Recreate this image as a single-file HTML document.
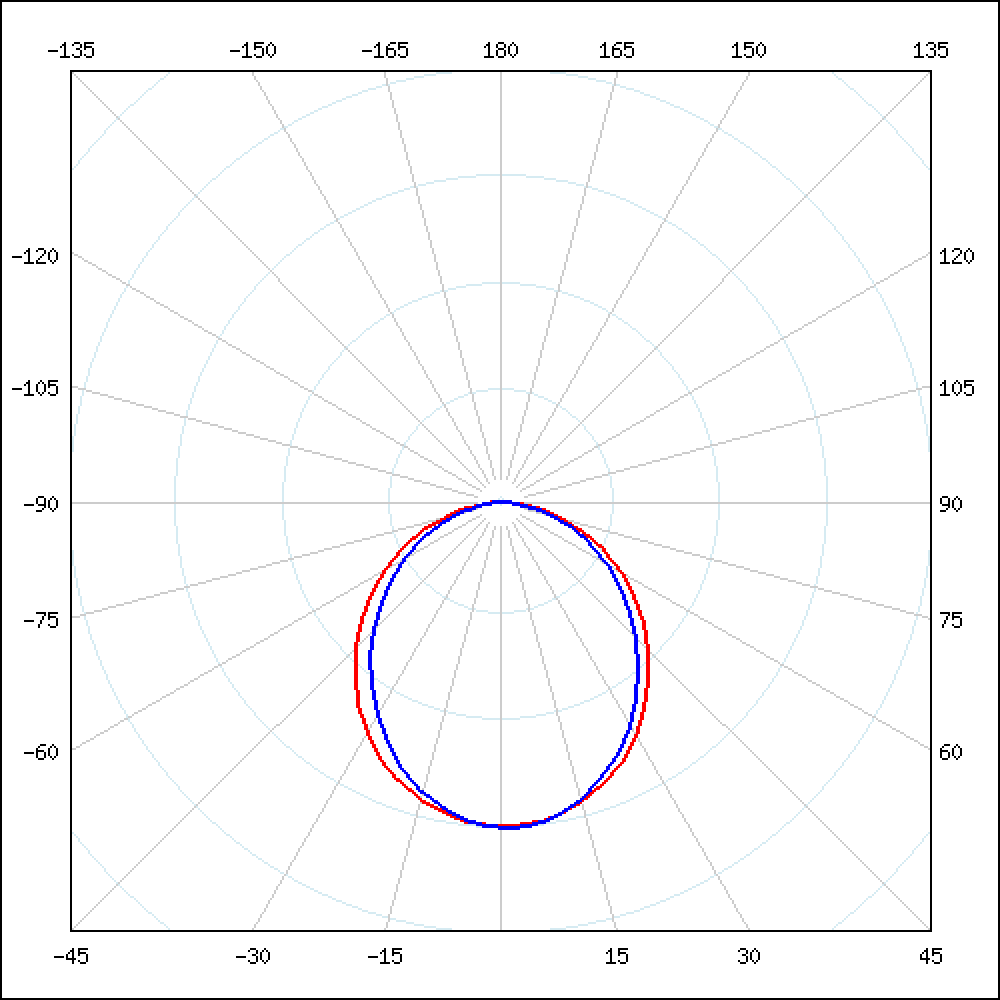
<!DOCTYPE html>
<html lang="en">
<head>
<meta charset="utf-8">
<title>Polar diagram</title>
<style>
html,body{margin:0;padding:0;background:#fff;}
body{width:1000px;height:1000px;overflow:hidden;font-family:"Liberation Sans",sans-serif;}
svg{display:block;position:absolute;left:0;top:0;}
</style>
</head>
<body>
<svg width="1000" height="1000" viewBox="0 0 500 500" shape-rendering="crispEdges" role="img" aria-label="Polar light distribution diagram, angles -180 to 180 degrees, two curves (red and blue)">
<rect x="0" y="0" width="500" height="500" fill="#ffffff"/>
<path fill="#d6ebf2" d="M84 36h1v1h-1zM218 36h8v1h-8zM275 36h8v1h-8zM416 36h1v1h-1zM83 37h1v1h-1zM212 37h6v1h-6zM283 37h6v1h-6zM417 37h1v1h-1zM82 38h1v1h-1zM207 38h5v1h-5zM289 38h5v1h-5zM418 38h1v1h-1zM80 39h2v1h-2zM203 39h4v1h-4zM294 39h4v1h-4zM419 39h2v1h-2zM79 40h1v1h-1zM198 40h5v1h-5zM298 40h5v1h-5zM421 40h1v1h-1zM78 41h1v1h-1zM195 41h3v1h-3zM303 41h3v1h-3zM422 41h1v1h-1zM77 42h1v1h-1zM191 42h2v1h-2zM194 42h1v1h-1zM306 42h1v1h-1zM308 42h2v1h-2zM423 42h1v1h-1zM76 43h1v1h-1zM188 43h3v1h-3zM310 43h3v1h-3zM424 43h1v1h-1zM74 44h2v1h-2zM184 44h4v1h-4zM313 44h4v1h-4zM425 44h2v1h-2zM73 45h1v1h-1zM181 45h3v1h-3zM317 45h3v1h-3zM427 45h1v1h-1zM72 46h1v1h-1zM179 46h2v1h-2zM320 46h2v1h-2zM428 46h1v1h-1zM71 47h1v1h-1zM176 47h3v1h-3zM322 47h3v1h-3zM429 47h1v1h-1zM70 48h1v1h-1zM173 48h3v1h-3zM325 48h3v1h-3zM430 48h1v1h-1zM69 49h1v1h-1zM171 49h2v1h-2zM328 49h2v1h-2zM431 49h1v1h-1zM68 50h1v1h-1zM168 50h3v1h-3zM330 50h3v1h-3zM432 50h1v1h-1zM67 51h1v1h-1zM166 51h2v1h-2zM333 51h2v1h-2zM433 51h1v1h-1zM65 52h2v1h-2zM164 52h2v1h-2zM335 52h2v1h-2zM434 52h2v1h-2zM64 53h1v1h-1zM161 53h3v1h-3zM337 53h3v1h-3zM436 53h1v1h-1zM63 54h1v1h-1zM159 54h2v1h-2zM340 54h2v1h-2zM437 54h1v1h-1zM62 55h1v1h-1zM157 55h2v1h-2zM342 55h2v1h-2zM438 55h1v1h-1zM61 56h1v1h-1zM155 56h2v1h-2zM344 56h2v1h-2zM439 56h1v1h-1zM60 57h1v1h-1zM153 57h2v1h-2zM346 57h2v1h-2zM440 57h1v1h-1zM59 58h1v1h-1zM151 58h2v1h-2zM348 58h2v1h-2zM441 58h1v1h-1zM58 59h1v1h-1zM149 59h2v1h-2zM350 59h2v1h-2zM442 59h1v1h-1zM57 60h1v1h-1zM147 60h2v1h-2zM352 60h2v1h-2zM443 60h1v1h-1zM56 61h1v1h-1zM146 61h1v1h-1zM354 61h1v1h-1zM444 61h1v1h-1zM55 62h1v1h-1zM144 62h2v1h-2zM355 62h2v1h-2zM445 62h1v1h-1zM54 63h1v1h-1zM142 63h2v1h-2zM357 63h2v1h-2zM446 63h1v1h-1zM53 64h1v1h-1zM140 64h2v1h-2zM359 64h2v1h-2zM447 64h1v1h-1zM139 65h1v1h-1zM361 65h1v1h-1zM137 66h2v1h-2zM362 66h2v1h-2zM51 67h1v1h-1zM135 67h2v1h-2zM364 67h2v1h-2zM449 67h1v1h-1zM50 68h1v1h-1zM134 68h1v1h-1zM366 68h1v1h-1zM450 68h1v1h-1zM49 69h1v1h-1zM132 69h2v1h-2zM367 69h2v1h-2zM451 69h1v1h-1zM48 70h1v1h-1zM131 70h1v1h-1zM369 70h1v1h-1zM452 70h1v1h-1zM47 71h1v1h-1zM129 71h2v1h-2zM370 71h2v1h-2zM453 71h1v1h-1zM46 72h1v1h-1zM128 72h1v1h-1zM372 72h1v1h-1zM454 72h1v1h-1zM45 73h1v1h-1zM126 73h2v1h-2zM373 73h2v1h-2zM455 73h1v1h-1zM125 74h1v1h-1zM375 74h1v1h-1zM124 75h1v1h-1zM376 75h1v1h-1zM43 76h1v1h-1zM122 76h2v1h-2zM377 76h2v1h-2zM457 76h1v1h-1zM42 77h1v1h-1zM121 77h1v1h-1zM379 77h1v1h-1zM458 77h1v1h-1zM41 78h1v1h-1zM120 78h1v1h-1zM380 78h1v1h-1zM459 78h1v1h-1zM40 79h1v1h-1zM118 79h2v1h-2zM381 79h2v1h-2zM460 79h1v1h-1zM117 80h1v1h-1zM383 80h1v1h-1zM116 81h1v1h-1zM384 81h1v1h-1zM38 82h1v1h-1zM115 82h1v1h-1zM385 82h1v1h-1zM462 82h1v1h-1zM37 83h1v1h-1zM113 83h2v1h-2zM386 83h2v1h-2zM463 83h1v1h-1zM36 84h1v1h-1zM112 84h1v1h-1zM388 84h1v1h-1zM464 84h1v1h-1zM111 85h1v1h-1zM389 85h1v1h-1zM110 86h1v1h-1zM390 86h1v1h-1zM109 87h1v1h-1zM238 87h12v1h-12zM251 87h12v1h-12zM391 87h1v1h-1zM108 88h1v1h-1zM229 88h9v1h-9zM263 88h9v1h-9zM392 88h1v1h-1zM106 89h2v1h-2zM223 89h6v1h-6zM272 89h6v1h-6zM393 89h2v1h-2zM105 90h1v1h-1zM217 90h6v1h-6zM278 90h6v1h-6zM395 90h1v1h-1zM104 91h1v1h-1zM213 91h4v1h-4zM284 91h4v1h-4zM396 91h1v1h-1zM103 92h1v1h-1zM209 92h4v1h-4zM288 92h4v1h-4zM397 92h1v1h-1zM102 93h1v1h-1zM205 93h2v1h-2zM208 93h1v1h-1zM292 93h1v1h-1zM294 93h2v1h-2zM398 93h1v1h-1zM101 94h1v1h-1zM202 94h3v1h-3zM296 94h3v1h-3zM399 94h1v1h-1zM100 95h1v1h-1zM199 95h3v1h-3zM299 95h3v1h-3zM400 95h1v1h-1zM99 96h1v1h-1zM196 96h3v1h-3zM302 96h3v1h-3zM401 96h1v1h-1zM98 97h1v1h-1zM193 97h3v1h-3zM305 97h3v1h-3zM402 97h1v1h-1zM97 98h1v1h-1zM191 98h2v1h-2zM308 98h2v1h-2zM403 98h1v1h-1zM96 99h1v1h-1zM188 99h3v1h-3zM310 99h3v1h-3zM404 99h1v1h-1zM95 100h1v1h-1zM186 100h2v1h-2zM313 100h2v1h-2zM405 100h1v1h-1zM94 101h1v1h-1zM184 101h2v1h-2zM315 101h2v1h-2zM406 101h1v1h-1zM93 102h1v1h-1zM182 102h2v1h-2zM317 102h2v1h-2zM407 102h1v1h-1zM92 103h1v1h-1zM180 103h2v1h-2zM319 103h2v1h-2zM408 103h1v1h-1zM91 104h1v1h-1zM178 104h2v1h-2zM321 104h2v1h-2zM409 104h1v1h-1zM90 105h1v1h-1zM176 105h2v1h-2zM323 105h2v1h-2zM410 105h1v1h-1zM174 106h2v1h-2zM325 106h2v1h-2zM172 107h2v1h-2zM327 107h2v1h-2zM88 108h1v1h-1zM170 108h2v1h-2zM329 108h2v1h-2zM412 108h1v1h-1zM87 109h1v1h-1zM169 109h1v1h-1zM331 109h1v1h-1zM413 109h1v1h-1zM86 110h1v1h-1zM167 110h1v1h-1zM333 110h1v1h-1zM414 110h1v1h-1zM85 111h1v1h-1zM165 111h2v1h-2zM334 111h2v1h-2zM415 111h1v1h-1zM84 112h1v1h-1zM163 112h2v1h-2zM336 112h2v1h-2zM416 112h1v1h-1zM162 113h1v1h-1zM338 113h1v1h-1zM160 114h2v1h-2zM339 114h2v1h-2zM82 115h1v1h-1zM159 115h1v1h-1zM341 115h1v1h-1zM418 115h1v1h-1zM81 116h1v1h-1zM157 116h2v1h-2zM342 116h2v1h-2zM419 116h1v1h-1zM80 117h1v1h-1zM156 117h1v1h-1zM344 117h1v1h-1zM420 117h1v1h-1zM155 118h1v1h-1zM345 118h1v1h-1zM153 119h2v1h-2zM346 119h2v1h-2zM78 120h1v1h-1zM152 120h1v1h-1zM348 120h1v1h-1zM422 120h1v1h-1zM77 121h1v1h-1zM151 121h1v1h-1zM349 121h1v1h-1zM423 121h1v1h-1zM149 122h2v1h-2zM350 122h2v1h-2zM148 123h1v1h-1zM352 123h1v1h-1zM75 124h1v1h-1zM147 124h1v1h-1zM353 124h1v1h-1zM425 124h1v1h-1zM74 125h1v1h-1zM146 125h1v1h-1zM354 125h1v1h-1zM426 125h1v1h-1zM145 126h1v1h-1zM355 126h1v1h-1zM143 127h2v1h-2zM356 127h2v1h-2zM72 128h1v1h-1zM142 128h1v1h-1zM358 128h1v1h-1zM428 128h1v1h-1zM141 129h1v1h-1zM359 129h1v1h-1zM140 130h1v1h-1zM360 130h1v1h-1zM70 131h1v1h-1zM139 131h1v1h-1zM361 131h1v1h-1zM430 131h1v1h-1zM138 132h1v1h-1zM362 132h1v1h-1zM137 133h1v1h-1zM363 133h1v1h-1zM68 134h1v1h-1zM136 134h1v1h-1zM364 134h1v1h-1zM432 134h1v1h-1zM134 136h1v1h-1zM366 136h1v1h-1zM133 137h1v1h-1zM367 137h1v1h-1zM132 138h1v1h-1zM368 138h1v1h-1zM65 139h1v1h-1zM131 139h1v1h-1zM369 139h1v1h-1zM435 139h1v1h-1zM130 140h1v1h-1zM370 140h1v1h-1zM129 141h1v1h-1zM241 141h9v1h-9zM251 141h9v1h-9zM371 141h1v1h-1zM128 142h1v1h-1zM233 142h8v1h-8zM260 142h8v1h-8zM372 142h1v1h-1zM63 143h1v1h-1zM228 143h5v1h-5zM268 143h5v1h-5zM437 143h1v1h-1zM224 144h4v1h-4zM273 144h4v1h-4zM126 145h1v1h-1zM220 145h1v1h-1zM222 145h2v1h-2zM277 145h2v1h-2zM280 145h1v1h-1zM374 145h1v1h-1zM61 146h1v1h-1zM125 146h1v1h-1zM217 146h3v1h-3zM281 146h3v1h-3zM375 146h1v1h-1zM439 146h1v1h-1zM124 147h1v1h-1zM214 147h3v1h-3zM284 147h3v1h-3zM376 147h1v1h-1zM123 148h1v1h-1zM211 148h3v1h-3zM287 148h3v1h-3zM377 148h1v1h-1zM209 149h2v1h-2zM290 149h2v1h-2zM206 150h3v1h-3zM292 150h3v1h-3zM121 151h1v1h-1zM204 151h2v1h-2zM295 151h2v1h-2zM379 151h1v1h-1zM120 152h1v1h-1zM202 152h2v1h-2zM297 152h2v1h-2zM380 152h1v1h-1zM200 153h2v1h-2zM299 153h2v1h-2zM198 154h2v1h-2zM301 154h2v1h-2zM118 155h1v1h-1zM197 155h1v1h-1zM303 155h1v1h-1zM382 155h1v1h-1zM117 156h1v1h-1zM196 156h1v1h-1zM304 156h1v1h-1zM383 156h1v1h-1zM193 157h2v1h-2zM306 157h2v1h-2zM192 158h1v1h-1zM308 158h1v1h-1zM115 159h1v1h-1zM190 159h2v1h-2zM309 159h2v1h-2zM385 159h1v1h-1zM189 160h1v1h-1zM311 160h1v1h-1zM187 161h2v1h-2zM312 161h2v1h-2zM113 162h1v1h-1zM186 162h1v1h-1zM314 162h1v1h-1zM387 162h1v1h-1zM185 163h1v1h-1zM315 163h1v1h-1zM183 164h2v1h-2zM316 164h2v1h-2zM182 165h1v1h-1zM318 165h1v1h-1zM181 166h1v1h-1zM319 166h1v1h-1zM110 167h1v1h-1zM180 167h1v1h-1zM320 167h1v1h-1zM390 167h1v1h-1zM109 168h1v1h-1zM179 168h1v1h-1zM321 168h1v1h-1zM391 168h1v1h-1zM178 169h1v1h-1zM322 169h1v1h-1zM176 170h2v1h-2zM323 170h2v1h-2zM175 171h1v1h-1zM325 171h1v1h-1zM174 172h1v1h-1zM326 172h1v1h-1zM173 173h1v1h-1zM327 173h1v1h-1zM172 174h1v1h-1zM328 174h1v1h-1zM171 175h1v1h-1zM329 175h1v1h-1zM169 178h1v1h-1zM331 178h1v1h-1zM168 179h1v1h-1zM332 179h1v1h-1zM167 180h1v1h-1zM333 180h1v1h-1zM166 181h1v1h-1zM334 181h1v1h-1zM165 182h1v1h-1zM335 182h1v1h-1zM163 185h1v1h-1zM337 185h1v1h-1zM162 186h1v1h-1zM338 186h1v1h-1zM160 189h1v1h-1zM340 189h1v1h-1zM158 192h1v1h-1zM342 192h1v1h-1zM244 194h6v1h-6zM251 194h6v1h-6zM156 195h1v1h-1zM238 195h6v1h-6zM257 195h6v1h-6zM344 195h1v1h-1zM234 196h1v1h-1zM236 196h2v1h-2zM263 196h2v1h-2zM266 196h1v1h-1zM155 197h1v1h-1zM232 197h2v1h-2zM267 197h2v1h-2zM345 197h1v1h-1zM229 198h3v1h-3zM269 198h3v1h-3zM227 199h2v1h-2zM272 199h2v1h-2zM225 200h2v1h-2zM274 200h2v1h-2zM223 201h2v1h-2zM276 201h2v1h-2zM221 202h1v1h-1zM279 202h1v1h-1zM220 203h1v1h-1zM280 203h1v1h-1zM218 204h2v1h-2zM281 204h2v1h-2zM217 205h1v1h-1zM283 205h1v1h-1zM216 206h1v1h-1zM284 206h1v1h-1zM215 207h1v1h-1zM285 207h1v1h-1zM213 208h2v1h-2zM286 208h2v1h-2zM212 209h1v1h-1zM288 209h1v1h-1zM211 210h1v1h-1zM289 210h1v1h-1zM209 212h1v1h-1zM291 212h1v1h-1zM207 215h1v1h-1zM293 215h1v1h-1zM206 216h1v1h-1zM294 216h1v1h-1zM205 217h1v1h-1zM295 217h1v1h-1zM203 220h1v1h-1zM297 220h1v1h-1zM355 223h1v1h-1zM304 237h1v1h-1zM250 248h1v1h-1zM249 249h1v1h-1zM251 249h1v1h-1zM250 252h1v1h-1zM196 266h1v1h-1zM304 266h1v1h-1zM301 272h1v1h-1zM298 278h1v1h-1zM145 280h1v1h-1zM203 280h1v1h-1zM297 280h1v1h-1zM355 280h1v1h-1zM205 283h1v1h-1zM295 283h1v1h-1zM206 284h1v1h-1zM294 284h1v1h-1zM207 285h1v1h-1zM293 285h1v1h-1zM209 288h1v1h-1zM291 288h1v1h-1zM210 289h1v1h-1zM290 289h1v1h-1zM212 291h1v1h-1zM288 291h1v1h-1zM93 292h1v1h-1zM213 292h2v1h-2zM286 292h2v1h-2zM407 292h1v1h-1zM215 293h1v1h-1zM285 293h1v1h-1zM216 294h1v1h-1zM284 294h1v1h-1zM217 295h1v1h-1zM283 295h1v1h-1zM218 296h2v1h-2zM281 296h2v1h-2zM220 297h1v1h-1zM280 297h1v1h-1zM221 298h2v1h-2zM278 298h2v1h-2zM223 299h2v1h-2zM276 299h2v1h-2zM225 300h2v1h-2zM274 300h2v1h-2zM227 301h2v1h-2zM272 301h2v1h-2zM229 302h3v1h-3zM269 302h3v1h-3zM155 303h1v1h-1zM232 303h2v1h-2zM267 303h2v1h-2zM345 303h1v1h-1zM156 304h1v1h-1zM234 304h2v1h-2zM237 304h1v1h-1zM263 304h1v1h-1zM265 304h2v1h-2zM344 304h1v1h-1zM238 305h6v1h-6zM257 305h6v1h-6zM42 306h1v1h-1zM244 306h6v1h-6zM251 306h6v1h-6zM458 306h1v1h-1zM158 308h1v1h-1zM342 308h1v1h-1zM160 311h1v1h-1zM340 311h1v1h-1zM162 314h1v1h-1zM338 314h1v1h-1zM163 315h1v1h-1zM337 315h1v1h-1zM165 318h1v1h-1zM335 318h1v1h-1zM166 319h1v1h-1zM334 319h1v1h-1zM167 320h1v1h-1zM333 320h1v1h-1zM168 321h1v1h-1zM332 321h1v1h-1zM169 322h1v1h-1zM331 322h1v1h-1zM171 325h1v1h-1zM329 325h1v1h-1zM172 326h1v1h-1zM328 326h1v1h-1zM173 327h1v1h-1zM327 327h1v1h-1zM174 328h1v1h-1zM326 328h1v1h-1zM175 329h1v1h-1zM325 329h1v1h-1zM176 330h1v1h-1zM109 331h1v1h-1zM322 331h1v1h-1zM391 331h1v1h-1zM179 332h1v1h-1zM321 332h1v1h-1zM110 333h1v1h-1zM180 333h1v1h-1zM320 333h1v1h-1zM390 333h1v1h-1zM181 334h1v1h-1zM182 335h1v1h-1zM183 336h2v1h-2zM316 336h2v1h-2zM315 337h1v1h-1zM113 338h1v1h-1zM314 338h1v1h-1zM387 338h1v1h-1zM187 339h2v1h-2zM312 339h2v1h-2zM189 340h1v1h-1zM311 340h1v1h-1zM115 341h1v1h-1zM190 341h2v1h-2zM309 341h2v1h-2zM385 341h1v1h-1zM192 342h1v1h-1zM308 342h1v1h-1zM193 343h2v1h-2zM306 343h2v1h-2zM117 344h1v1h-1zM195 344h1v1h-1zM305 344h1v1h-1zM383 344h1v1h-1zM118 345h1v1h-1zM197 345h1v1h-1zM303 345h1v1h-1zM382 345h1v1h-1zM198 346h2v1h-2zM301 346h2v1h-2zM200 347h2v1h-2zM299 347h2v1h-2zM120 348h1v1h-1zM202 348h2v1h-2zM297 348h2v1h-2zM380 348h1v1h-1zM121 349h1v1h-1zM204 349h2v1h-2zM295 349h2v1h-2zM379 349h1v1h-1zM206 350h3v1h-3zM292 350h3v1h-3zM209 351h2v1h-2zM290 351h2v1h-2zM123 352h1v1h-1zM211 352h3v1h-3zM287 352h3v1h-3zM377 352h1v1h-1zM124 353h1v1h-1zM214 353h3v1h-3zM284 353h3v1h-3zM376 353h1v1h-1zM61 354h1v1h-1zM125 354h1v1h-1zM217 354h3v1h-3zM281 354h3v1h-3zM375 354h1v1h-1zM439 354h1v1h-1zM126 355h1v1h-1zM220 355h2v1h-2zM223 355h1v1h-1zM277 355h1v1h-1zM279 355h2v1h-2zM374 355h1v1h-1zM224 356h4v1h-4zM273 356h4v1h-4zM228 357h5v1h-5zM268 357h5v1h-5zM437 357h1v1h-1zM128 358h1v1h-1zM233 358h8v1h-8zM260 358h8v1h-8zM372 358h1v1h-1zM129 359h1v1h-1zM241 359h9v1h-9zM251 359h9v1h-9zM371 359h1v1h-1zM130 360h1v1h-1zM370 360h1v1h-1zM65 361h1v1h-1zM131 361h1v1h-1zM369 361h1v1h-1zM435 361h1v1h-1zM132 362h1v1h-1zM368 362h1v1h-1zM133 363h1v1h-1zM367 363h1v1h-1zM134 364h1v1h-1zM366 364h1v1h-1zM68 366h1v1h-1zM136 366h1v1h-1zM364 366h1v1h-1zM432 366h1v1h-1zM137 367h1v1h-1zM363 367h1v1h-1zM138 368h1v1h-1zM362 368h1v1h-1zM70 369h1v1h-1zM139 369h1v1h-1zM361 369h1v1h-1zM430 369h1v1h-1zM140 370h1v1h-1zM360 370h1v1h-1zM141 371h1v1h-1zM359 371h1v1h-1zM72 372h1v1h-1zM142 372h1v1h-1zM358 372h1v1h-1zM428 372h1v1h-1zM143 373h2v1h-2zM356 373h2v1h-2zM145 374h1v1h-1zM355 374h1v1h-1zM74 375h1v1h-1zM146 375h1v1h-1zM354 375h1v1h-1zM426 375h1v1h-1zM75 376h1v1h-1zM147 376h1v1h-1zM353 376h1v1h-1zM425 376h1v1h-1zM148 377h1v1h-1zM352 377h1v1h-1zM149 378h2v1h-2zM350 378h2v1h-2zM77 379h1v1h-1zM151 379h1v1h-1zM349 379h1v1h-1zM423 379h1v1h-1zM78 380h1v1h-1zM152 380h1v1h-1zM348 380h1v1h-1zM422 380h1v1h-1zM153 381h2v1h-2zM346 381h2v1h-2zM155 382h1v1h-1zM345 382h1v1h-1zM80 383h1v1h-1zM156 383h1v1h-1zM344 383h1v1h-1zM420 383h1v1h-1zM81 384h1v1h-1zM157 384h2v1h-2zM342 384h2v1h-2zM419 384h1v1h-1zM82 385h1v1h-1zM159 385h1v1h-1zM341 385h1v1h-1zM418 385h1v1h-1zM160 386h2v1h-2zM339 386h2v1h-2zM162 387h1v1h-1zM338 387h1v1h-1zM84 388h1v1h-1zM163 388h2v1h-2zM336 388h2v1h-2zM416 388h1v1h-1zM85 389h1v1h-1zM165 389h2v1h-2zM334 389h2v1h-2zM415 389h1v1h-1zM86 390h1v1h-1zM167 390h1v1h-1zM333 390h1v1h-1zM414 390h1v1h-1zM87 391h1v1h-1zM168 391h1v1h-1zM332 391h1v1h-1zM413 391h1v1h-1zM88 392h1v1h-1zM170 392h2v1h-2zM329 392h2v1h-2zM412 392h1v1h-1zM172 393h2v1h-2zM327 393h2v1h-2zM174 394h2v1h-2zM325 394h2v1h-2zM90 395h1v1h-1zM176 395h2v1h-2zM323 395h2v1h-2zM410 395h1v1h-1zM91 396h1v1h-1zM178 396h2v1h-2zM321 396h2v1h-2zM409 396h1v1h-1zM92 397h1v1h-1zM180 397h2v1h-2zM319 397h2v1h-2zM408 397h1v1h-1zM93 398h1v1h-1zM182 398h2v1h-2zM317 398h2v1h-2zM407 398h1v1h-1zM94 399h1v1h-1zM184 399h2v1h-2zM315 399h2v1h-2zM406 399h1v1h-1zM95 400h1v1h-1zM186 400h2v1h-2zM313 400h2v1h-2zM405 400h1v1h-1zM96 401h1v1h-1zM188 401h3v1h-3zM310 401h3v1h-3zM404 401h1v1h-1zM97 402h1v1h-1zM191 402h2v1h-2zM308 402h2v1h-2zM403 402h1v1h-1zM98 403h1v1h-1zM193 403h3v1h-3zM305 403h3v1h-3zM402 403h1v1h-1zM99 404h1v1h-1zM196 404h3v1h-3zM302 404h3v1h-3zM401 404h1v1h-1zM100 405h1v1h-1zM199 405h3v1h-3zM299 405h3v1h-3zM400 405h1v1h-1zM101 406h1v1h-1zM202 406h3v1h-3zM296 406h3v1h-3zM399 406h1v1h-1zM102 407h1v1h-1zM205 407h3v1h-3zM293 407h3v1h-3zM398 407h1v1h-1zM103 408h1v1h-1zM209 408h4v1h-4zM288 408h4v1h-4zM397 408h1v1h-1zM104 409h1v1h-1zM213 409h4v1h-4zM284 409h4v1h-4zM396 409h1v1h-1zM105 410h1v1h-1zM217 410h6v1h-6zM278 410h6v1h-6zM395 410h1v1h-1zM106 411h2v1h-2zM223 411h6v1h-6zM273 411h5v1h-5zM393 411h2v1h-2zM108 412h1v1h-1zM229 412h9v1h-9zM269 412h3v1h-3zM392 412h1v1h-1zM109 413h1v1h-1zM238 413h3v1h-3zM391 413h1v1h-1zM110 414h1v1h-1zM390 414h1v1h-1zM111 415h1v1h-1zM389 415h1v1h-1zM36 416h1v1h-1zM112 416h1v1h-1zM388 416h1v1h-1zM464 416h1v1h-1zM37 417h1v1h-1zM113 417h2v1h-2zM386 417h2v1h-2zM463 417h1v1h-1zM38 418h1v1h-1zM115 418h1v1h-1zM385 418h1v1h-1zM462 418h1v1h-1zM116 419h1v1h-1zM384 419h1v1h-1zM117 420h1v1h-1zM383 420h1v1h-1zM40 421h1v1h-1zM118 421h2v1h-2zM381 421h2v1h-2zM460 421h1v1h-1zM41 422h1v1h-1zM120 422h1v1h-1zM380 422h1v1h-1zM459 422h1v1h-1zM42 423h1v1h-1zM121 423h1v1h-1zM379 423h1v1h-1zM458 423h1v1h-1zM43 424h1v1h-1zM122 424h2v1h-2zM377 424h2v1h-2zM457 424h1v1h-1zM124 425h1v1h-1zM376 425h1v1h-1zM125 426h1v1h-1zM375 426h1v1h-1zM45 427h1v1h-1zM126 427h2v1h-2zM373 427h2v1h-2zM455 427h1v1h-1zM46 428h1v1h-1zM128 428h1v1h-1zM372 428h1v1h-1zM454 428h1v1h-1zM47 429h1v1h-1zM129 429h2v1h-2zM370 429h2v1h-2zM453 429h1v1h-1zM48 430h1v1h-1zM131 430h1v1h-1zM369 430h1v1h-1zM452 430h1v1h-1zM49 431h1v1h-1zM132 431h2v1h-2zM367 431h2v1h-2zM451 431h1v1h-1zM50 432h1v1h-1zM134 432h1v1h-1zM366 432h1v1h-1zM450 432h1v1h-1zM51 433h1v1h-1zM135 433h2v1h-2zM364 433h2v1h-2zM449 433h1v1h-1zM137 434h2v1h-2zM362 434h2v1h-2zM139 435h1v1h-1zM361 435h1v1h-1zM53 436h1v1h-1zM140 436h2v1h-2zM359 436h2v1h-2zM447 436h1v1h-1zM54 437h1v1h-1zM143 437h1v1h-1zM357 437h1v1h-1zM446 437h1v1h-1zM55 438h1v1h-1zM144 438h2v1h-2zM355 438h2v1h-2zM445 438h1v1h-1zM56 439h1v1h-1zM146 439h1v1h-1zM354 439h1v1h-1zM444 439h1v1h-1zM57 440h1v1h-1zM147 440h2v1h-2zM352 440h2v1h-2zM443 440h1v1h-1zM58 441h1v1h-1zM149 441h2v1h-2zM350 441h2v1h-2zM442 441h1v1h-1zM59 442h1v1h-1zM151 442h2v1h-2zM348 442h2v1h-2zM441 442h1v1h-1zM60 443h1v1h-1zM153 443h2v1h-2zM346 443h2v1h-2zM440 443h1v1h-1zM61 444h1v1h-1zM155 444h2v1h-2zM344 444h2v1h-2zM439 444h1v1h-1zM62 445h1v1h-1zM157 445h2v1h-2zM342 445h2v1h-2zM438 445h1v1h-1zM63 446h1v1h-1zM159 446h2v1h-2zM340 446h2v1h-2zM437 446h1v1h-1zM64 447h1v1h-1zM161 447h3v1h-3zM337 447h3v1h-3zM436 447h1v1h-1zM65 448h2v1h-2zM164 448h2v1h-2zM335 448h2v1h-2zM434 448h2v1h-2zM67 449h1v1h-1zM166 449h2v1h-2zM333 449h2v1h-2zM433 449h1v1h-1zM68 450h1v1h-1zM168 450h3v1h-3zM330 450h3v1h-3zM432 450h1v1h-1zM69 451h1v1h-1zM171 451h2v1h-2zM328 451h2v1h-2zM431 451h1v1h-1zM70 452h1v1h-1zM173 452h3v1h-3zM325 452h3v1h-3zM430 452h1v1h-1zM71 453h1v1h-1zM176 453h3v1h-3zM322 453h3v1h-3zM429 453h1v1h-1zM72 454h1v1h-1zM179 454h2v1h-2zM320 454h2v1h-2zM428 454h1v1h-1zM73 455h1v1h-1zM181 455h3v1h-3zM317 455h3v1h-3zM427 455h1v1h-1zM74 456h2v1h-2zM184 456h4v1h-4zM313 456h4v1h-4zM425 456h2v1h-2zM76 457h1v1h-1zM188 457h3v1h-3zM310 457h3v1h-3zM424 457h1v1h-1zM77 458h1v1h-1zM191 458h3v1h-3zM307 458h3v1h-3zM423 458h1v1h-1zM78 459h1v1h-1zM195 459h3v1h-3zM303 459h3v1h-3zM422 459h1v1h-1zM79 460h1v1h-1zM198 460h5v1h-5zM298 460h5v1h-5zM421 460h1v1h-1zM80 461h2v1h-2zM203 461h4v1h-4zM294 461h4v1h-4zM419 461h2v1h-2zM82 462h1v1h-1zM207 462h5v1h-5zM289 462h5v1h-5zM418 462h1v1h-1zM83 463h1v1h-1zM212 463h6v1h-6zM283 463h6v1h-6zM417 463h1v1h-1zM84 464h1v1h-1zM218 464h8v1h-8zM275 464h8v1h-8zM416 464h1v1h-1zM36 218v8h1v-8zM36 275v8h1v-8zM37 212v6h1v-6zM37 283v6h1v-6zM38 207v5h1v-5zM38 289v5h1v-5zM39 80v2h1v-2zM39 203v4h1v-4zM39 294v4h1v-4zM39 419v2h1v-2zM40 198v5h1v-5zM40 298v5h1v-5zM41 195v3h1v-3zM41 303v3h1v-3zM42 191v3h1v-3zM42 308v2h1v-2zM43 188v3h1v-3zM43 310v3h1v-3zM44 74v2h1v-2zM44 184v4h1v-4zM44 313v4h1v-4zM44 425v2h1v-2zM45 181v3h1v-3zM45 317v3h1v-3zM46 179v2h1v-2zM46 320v2h1v-2zM47 176v3h1v-3zM47 322v3h1v-3zM48 173v3h1v-3zM48 325v3h1v-3zM49 171v2h1v-2zM49 328v2h1v-2zM50 168v3h1v-3zM50 330v3h1v-3zM51 166v2h1v-2zM51 333v2h1v-2zM52 65v2h1v-2zM52 164v2h1v-2zM52 335v2h1v-2zM52 434v2h1v-2zM53 161v3h1v-3zM53 337v3h1v-3zM54 159v2h1v-2zM54 340v2h1v-2zM55 157v2h1v-2zM55 342v2h1v-2zM56 155v2h1v-2zM56 344v2h1v-2zM57 153v2h1v-2zM57 346v2h1v-2zM58 151v2h1v-2zM58 348v2h1v-2zM59 149v2h1v-2zM59 350v2h1v-2zM60 147v2h1v-2zM60 352v2h1v-2zM62 144v2h1v-2zM62 355v2h1v-2zM63 357v2h1v-2zM64 140v2h1v-2zM64 359v2h1v-2zM66 137v2h1v-2zM66 362v2h1v-2zM67 135v2h1v-2zM67 364v2h1v-2zM69 132v2h1v-2zM69 367v2h1v-2zM71 129v2h1v-2zM71 370v2h1v-2zM73 126v2h1v-2zM73 373v2h1v-2zM76 122v2h1v-2zM76 377v2h1v-2zM79 118v2h1v-2zM79 381v2h1v-2zM83 113v2h1v-2zM83 386v2h1v-2zM87 238v13h1v-13zM87 252v11h1v-11zM88 229v9h1v-9zM88 263v9h1v-9zM89 106v2h1v-2zM89 223v6h1v-6zM89 272v6h1v-6zM89 393v2h1v-2zM90 217v6h1v-6zM90 278v6h1v-6zM91 213v4h1v-4zM91 284v4h1v-4zM92 209v4h1v-4zM92 288v4h1v-4zM93 205v3h1v-3zM93 294v2h1v-2zM94 202v3h1v-3zM94 296v3h1v-3zM95 199v3h1v-3zM95 299v3h1v-3zM96 196v3h1v-3zM96 302v3h1v-3zM97 193v3h1v-3zM97 305v3h1v-3zM98 191v2h1v-2zM98 308v2h1v-2zM99 188v3h1v-3zM99 310v3h1v-3zM100 186v2h1v-2zM100 313v2h1v-2zM101 184v2h1v-2zM101 315v2h1v-2zM102 182v2h1v-2zM102 317v2h1v-2zM103 180v2h1v-2zM103 319v2h1v-2zM104 178v2h1v-2zM104 321v2h1v-2zM105 176v2h1v-2zM105 323v2h1v-2zM106 174v2h1v-2zM106 325v2h1v-2zM107 172v2h1v-2zM107 327v2h1v-2zM108 170v2h1v-2zM108 329v2h1v-2zM111 165v2h1v-2zM111 334v2h1v-2zM112 163v2h1v-2zM112 336v2h1v-2zM114 160v2h1v-2zM114 339v2h1v-2zM116 157v2h1v-2zM116 342v2h1v-2zM119 153v2h1v-2zM119 346v2h1v-2zM122 149v2h1v-2zM122 350v2h1v-2zM127 143v2h1v-2zM127 356v2h1v-2zM141 241v10h1v-10zM141 252v8h1v-8zM142 233v8h1v-8zM142 260v8h1v-8zM143 228v5h1v-5zM143 268v5h1v-5zM144 224v4h1v-4zM144 273v4h1v-4zM145 220v3h1v-3zM145 277v2h1v-2zM146 217v3h1v-3zM146 281v3h1v-3zM147 214v3h1v-3zM147 284v3h1v-3zM148 211v3h1v-3zM148 287v3h1v-3zM149 209v2h1v-2zM149 290v2h1v-2zM150 206v3h1v-3zM150 292v3h1v-3zM151 204v2h1v-2zM151 295v2h1v-2zM152 202v2h1v-2zM152 297v2h1v-2zM153 200v2h1v-2zM153 299v2h1v-2zM154 198v2h1v-2zM154 301v2h1v-2zM157 193v2h1v-2zM157 306v2h1v-2zM159 190v2h1v-2zM159 309v2h1v-2zM161 187v2h1v-2zM161 312v2h1v-2zM164 183v2h1v-2zM164 316v2h1v-2zM170 176v2h1v-2zM170 323v2h1v-2zM194 244v7h1v-7zM194 252v5h1v-5zM195 238v6h1v-6zM195 257v6h1v-6zM196 234v3h1v-3zM196 263v2h1v-2zM197 232v2h1v-2zM197 267v2h1v-2zM198 229v3h1v-3zM198 269v3h1v-3zM199 227v2h1v-2zM199 272v2h1v-2zM200 225v2h1v-2zM201 223v2h1v-2zM201 276v2h1v-2zM202 221v2h1v-2zM204 218v2h1v-2zM204 281v2h1v-2zM208 213v2h1v-2zM208 286v2h1v-2zM292 213v2h1v-2zM292 286v2h1v-2zM296 218v2h1v-2zM296 281v2h1v-2zM298 221v2h1v-2zM299 223v2h1v-2zM300 225v2h1v-2zM300 274v2h1v-2zM301 227v2h1v-2zM302 229v3h1v-3zM302 269v3h1v-3zM303 232v2h1v-2zM303 267v2h1v-2zM304 234v2h1v-2zM304 263v2h1v-2zM305 238v6h1v-6zM305 257v6h1v-6zM306 244v7h1v-7zM306 252v5h1v-5zM330 176v2h1v-2zM330 323v2h1v-2zM336 183v2h1v-2zM336 316v2h1v-2zM339 187v2h1v-2zM339 312v2h1v-2zM341 190v2h1v-2zM341 309v2h1v-2zM343 193v2h1v-2zM343 306v2h1v-2zM346 198v2h1v-2zM346 301v2h1v-2zM347 200v2h1v-2zM347 299v2h1v-2zM348 202v2h1v-2zM348 297v2h1v-2zM349 204v2h1v-2zM349 295v2h1v-2zM350 206v3h1v-3zM350 292v3h1v-3zM351 209v2h1v-2zM351 290v2h1v-2zM352 211v3h1v-3zM352 287v3h1v-3zM353 214v3h1v-3zM353 284v3h1v-3zM354 217v3h1v-3zM354 281v3h1v-3zM355 220v2h1v-2zM355 277v2h1v-2zM356 224v4h1v-4zM356 273v4h1v-4zM357 228v5h1v-5zM357 268v5h1v-5zM358 233v8h1v-8zM358 260v8h1v-8zM359 241v10h1v-10zM359 252v8h1v-8zM373 143v2h1v-2zM373 356v2h1v-2zM378 149v2h1v-2zM378 350v2h1v-2zM381 153v2h1v-2zM381 346v2h1v-2zM384 157v2h1v-2zM384 342v2h1v-2zM386 160v2h1v-2zM386 339v2h1v-2zM388 163v2h1v-2zM388 336v2h1v-2zM389 165v2h1v-2zM389 334v2h1v-2zM392 170v2h1v-2zM392 329v2h1v-2zM393 172v2h1v-2zM393 327v2h1v-2zM394 174v2h1v-2zM394 325v2h1v-2zM395 176v2h1v-2zM395 323v2h1v-2zM396 178v2h1v-2zM396 321v2h1v-2zM397 180v2h1v-2zM397 319v2h1v-2zM398 182v2h1v-2zM398 317v2h1v-2zM399 184v2h1v-2zM399 315v2h1v-2zM400 186v2h1v-2zM400 313v2h1v-2zM401 188v3h1v-3zM401 310v3h1v-3zM402 191v2h1v-2zM402 308v2h1v-2zM403 193v3h1v-3zM403 305v3h1v-3zM404 196v3h1v-3zM404 302v3h1v-3zM405 199v3h1v-3zM405 299v3h1v-3zM406 202v3h1v-3zM406 296v3h1v-3zM407 205v3h1v-3zM407 294v2h1v-2zM408 209v4h1v-4zM408 288v4h1v-4zM409 213v4h1v-4zM409 284v4h1v-4zM410 217v6h1v-6zM410 278v6h1v-6zM411 106v2h1v-2zM411 223v6h1v-6zM411 272v6h1v-6zM411 393v2h1v-2zM412 229v9h1v-9zM412 263v9h1v-9zM413 238v13h1v-13zM413 252v11h1v-11zM417 113v2h1v-2zM417 386v2h1v-2zM421 118v2h1v-2zM421 381v2h1v-2zM424 122v2h1v-2zM424 377v2h1v-2zM427 126v2h1v-2zM427 373v2h1v-2zM429 129v2h1v-2zM429 370v2h1v-2zM431 132v2h1v-2zM431 367v2h1v-2zM433 135v2h1v-2zM433 364v2h1v-2zM434 137v2h1v-2zM434 362v2h1v-2zM436 140v2h1v-2zM436 359v2h1v-2zM438 144v2h1v-2zM438 355v2h1v-2zM440 147v2h1v-2zM440 352v2h1v-2zM441 149v2h1v-2zM441 350v2h1v-2zM442 151v2h1v-2zM442 348v2h1v-2zM443 153v2h1v-2zM443 346v2h1v-2zM444 155v2h1v-2zM444 344v2h1v-2zM445 157v2h1v-2zM445 342v2h1v-2zM446 159v2h1v-2zM446 340v2h1v-2zM447 161v3h1v-3zM447 337v3h1v-3zM448 65v2h1v-2zM448 164v2h1v-2zM448 335v2h1v-2zM448 434v2h1v-2zM449 166v2h1v-2zM449 333v2h1v-2zM450 168v3h1v-3zM450 330v3h1v-3zM451 171v2h1v-2zM451 328v2h1v-2zM452 173v3h1v-3zM452 325v3h1v-3zM453 176v3h1v-3zM453 322v3h1v-3zM454 179v2h1v-2zM454 320v2h1v-2zM455 181v3h1v-3zM455 317v3h1v-3zM456 74v2h1v-2zM456 184v4h1v-4zM456 313v4h1v-4zM456 425v2h1v-2zM457 188v3h1v-3zM457 310v3h1v-3zM458 191v3h1v-3zM458 308v2h1v-2zM459 195v3h1v-3zM459 303v3h1v-3zM460 198v5h1v-5zM460 298v5h1v-5zM461 80v2h1v-2zM461 203v4h1v-4zM461 294v4h1v-4zM461 419v2h1v-2zM462 207v5h1v-5zM462 289v5h1v-5zM463 212v6h1v-6zM463 283v6h1v-6zM464 218v8h1v-8zM464 275v8h1v-8z"><title>grid circles</title></path>
<path fill="#cccccc" d="M36 36h1v1h-1zM464 36h1v1h-1zM37 37h1v1h-1zM463 37h1v1h-1zM38 38h1v1h-1zM462 38h1v1h-1zM39 39h1v1h-1zM461 39h1v1h-1zM40 40h1v1h-1zM128 40h1v1h-1zM372 40h1v1h-1zM460 40h1v1h-1zM41 41h1v1h-1zM459 41h1v1h-1zM42 42h1v1h-1zM458 42h1v1h-1zM43 43h1v1h-1zM457 43h1v1h-1zM44 44h1v1h-1zM456 44h1v1h-1zM45 45h1v1h-1zM131 45h1v1h-1zM369 45h1v1h-1zM455 45h1v1h-1zM46 46h1v1h-1zM454 46h1v1h-1zM47 47h1v1h-1zM453 47h1v1h-1zM48 48h1v1h-1zM452 48h1v1h-1zM49 49h1v1h-1zM451 49h1v1h-1zM50 50h1v1h-1zM450 50h1v1h-1zM51 51h1v1h-1zM449 51h1v1h-1zM52 52h1v1h-1zM135 52h1v1h-1zM365 52h1v1h-1zM448 52h1v1h-1zM53 53h1v1h-1zM447 53h1v1h-1zM54 54h1v1h-1zM446 54h1v1h-1zM55 55h1v1h-1zM445 55h1v1h-1zM56 56h1v1h-1zM444 56h1v1h-1zM57 57h1v1h-1zM443 57h1v1h-1zM58 58h1v1h-1zM442 58h1v1h-1zM59 59h1v1h-1zM139 59h1v1h-1zM361 59h1v1h-1zM441 59h1v1h-1zM60 60h1v1h-1zM440 60h1v1h-1zM61 61h1v1h-1zM439 61h1v1h-1zM62 62h1v1h-1zM438 62h1v1h-1zM63 63h1v1h-1zM437 63h1v1h-1zM64 64h1v1h-1zM436 64h1v1h-1zM65 65h1v1h-1zM435 65h1v1h-1zM66 66h1v1h-1zM143 66h1v1h-1zM357 66h1v1h-1zM434 66h1v1h-1zM67 67h1v1h-1zM433 67h1v1h-1zM68 68h1v1h-1zM432 68h1v1h-1zM69 69h1v1h-1zM431 69h1v1h-1zM70 70h1v1h-1zM430 70h1v1h-1zM71 71h1v1h-1zM146 71h1v1h-1zM354 71h1v1h-1zM429 71h1v1h-1zM72 72h1v1h-1zM428 72h1v1h-1zM73 73h1v1h-1zM427 73h1v1h-1zM74 74h1v1h-1zM426 74h1v1h-1zM75 75h1v1h-1zM425 75h1v1h-1zM76 76h1v1h-1zM424 76h1v1h-1zM77 77h1v1h-1zM423 77h1v1h-1zM78 78h1v1h-1zM150 78h1v1h-1zM350 78h1v1h-1zM422 78h1v1h-1zM79 79h1v1h-1zM421 79h1v1h-1zM80 80h1v1h-1zM420 80h1v1h-1zM81 81h1v1h-1zM419 81h1v1h-1zM82 82h1v1h-1zM418 82h1v1h-1zM83 83h1v1h-1zM417 83h1v1h-1zM84 84h1v1h-1zM416 84h1v1h-1zM85 85h1v1h-1zM154 85h1v1h-1zM346 85h1v1h-1zM415 85h1v1h-1zM86 86h1v1h-1zM414 86h1v1h-1zM87 87h1v1h-1zM413 87h1v1h-1zM88 88h1v1h-1zM412 88h1v1h-1zM89 89h1v1h-1zM411 89h1v1h-1zM90 90h1v1h-1zM410 90h1v1h-1zM91 91h1v1h-1zM409 91h1v1h-1zM92 92h1v1h-1zM158 92h1v1h-1zM342 92h1v1h-1zM408 92h1v1h-1zM93 93h1v1h-1zM407 93h1v1h-1zM94 94h1v1h-1zM406 94h1v1h-1zM95 95h1v1h-1zM405 95h1v1h-1zM96 96h1v1h-1zM404 96h1v1h-1zM97 97h1v1h-1zM161 97h1v1h-1zM339 97h1v1h-1zM403 97h1v1h-1zM98 98h1v1h-1zM402 98h1v1h-1zM99 99h1v1h-1zM401 99h1v1h-1zM100 100h1v1h-1zM400 100h1v1h-1zM101 101h1v1h-1zM399 101h1v1h-1zM102 102h1v1h-1zM398 102h1v1h-1zM103 103h1v1h-1zM397 103h1v1h-1zM104 104h1v1h-1zM165 104h1v1h-1zM335 104h1v1h-1zM396 104h1v1h-1zM105 105h1v1h-1zM395 105h1v1h-1zM106 106h1v1h-1zM394 106h1v1h-1zM107 107h1v1h-1zM393 107h1v1h-1zM108 108h1v1h-1zM392 108h1v1h-1zM109 109h1v1h-1zM391 109h1v1h-1zM110 110h1v1h-1zM390 110h1v1h-1zM111 111h1v1h-1zM169 111h1v1h-1zM331 111h1v1h-1zM389 111h1v1h-1zM112 112h1v1h-1zM388 112h1v1h-1zM113 113h1v1h-1zM387 113h1v1h-1zM114 114h1v1h-1zM386 114h1v1h-1zM115 115h1v1h-1zM385 115h1v1h-1zM116 116h1v1h-1zM384 116h1v1h-1zM117 117h1v1h-1zM383 117h1v1h-1zM118 118h1v1h-1zM173 118h1v1h-1zM327 118h1v1h-1zM382 118h1v1h-1zM119 119h1v1h-1zM381 119h1v1h-1zM120 120h1v1h-1zM380 120h1v1h-1zM121 121h1v1h-1zM379 121h1v1h-1zM122 122h1v1h-1zM378 122h1v1h-1zM123 123h1v1h-1zM176 123h1v1h-1zM324 123h1v1h-1zM377 123h1v1h-1zM124 124h1v1h-1zM376 124h1v1h-1zM125 125h1v1h-1zM375 125h1v1h-1zM36 126h1v1h-1zM126 126h1v1h-1zM374 126h1v1h-1zM464 126h1v1h-1zM37 127h2v1h-2zM127 127h1v1h-1zM373 127h1v1h-1zM463 127h1v1h-1zM39 128h2v1h-2zM128 128h1v1h-1zM372 128h1v1h-1zM461 128h2v1h-2zM41 129h1v1h-1zM129 129h1v1h-1zM371 129h1v1h-1zM459 129h2v1h-2zM42 130h2v1h-2zM130 130h1v1h-1zM180 130h1v1h-1zM320 130h1v1h-1zM370 130h1v1h-1zM457 130h2v1h-2zM44 131h2v1h-2zM131 131h1v1h-1zM369 131h1v1h-1zM456 131h1v1h-1zM46 132h2v1h-2zM132 132h1v1h-1zM368 132h1v1h-1zM454 132h2v1h-2zM48 133h1v1h-1zM133 133h1v1h-1zM367 133h1v1h-1zM452 133h2v1h-2zM49 134h2v1h-2zM134 134h1v1h-1zM366 134h1v1h-1zM450 134h2v1h-2zM51 135h2v1h-2zM135 135h1v1h-1zM365 135h1v1h-1zM449 135h1v1h-1zM53 136h1v1h-1zM136 136h1v1h-1zM364 136h1v1h-1zM447 136h2v1h-2zM54 137h2v1h-2zM137 137h1v1h-1zM184 137h1v1h-1zM316 137h1v1h-1zM363 137h1v1h-1zM445 137h2v1h-2zM56 138h2v1h-2zM138 138h1v1h-1zM362 138h1v1h-1zM444 138h1v1h-1zM58 139h2v1h-2zM442 139h2v1h-2zM60 140h1v1h-1zM440 140h2v1h-2zM61 141h2v1h-2zM140 141h1v1h-1zM360 141h1v1h-1zM438 141h2v1h-2zM63 142h2v1h-2zM141 142h1v1h-1zM359 142h1v1h-1zM437 142h1v1h-1zM65 143h1v1h-1zM142 143h1v1h-1zM358 143h1v1h-1zM435 143h2v1h-2zM66 144h2v1h-2zM143 144h1v1h-1zM188 144h1v1h-1zM312 144h1v1h-1zM357 144h1v1h-1zM433 144h2v1h-2zM68 145h2v1h-2zM144 145h1v1h-1zM356 145h1v1h-1zM432 145h1v1h-1zM70 146h2v1h-2zM145 146h1v1h-1zM355 146h1v1h-1zM430 146h2v1h-2zM72 147h1v1h-1zM146 147h1v1h-1zM354 147h1v1h-1zM428 147h2v1h-2zM73 148h2v1h-2zM147 148h1v1h-1zM353 148h1v1h-1zM426 148h2v1h-2zM75 149h2v1h-2zM148 149h1v1h-1zM191 149h1v1h-1zM309 149h1v1h-1zM352 149h1v1h-1zM425 149h1v1h-1zM77 150h1v1h-1zM149 150h1v1h-1zM351 150h1v1h-1zM423 150h2v1h-2zM78 151h2v1h-2zM150 151h1v1h-1zM350 151h1v1h-1zM421 151h2v1h-2zM80 152h2v1h-2zM151 152h1v1h-1zM349 152h1v1h-1zM420 152h1v1h-1zM82 153h2v1h-2zM152 153h1v1h-1zM348 153h1v1h-1zM418 153h2v1h-2zM84 154h1v1h-1zM153 154h1v1h-1zM347 154h1v1h-1zM416 154h2v1h-2zM85 155h2v1h-2zM154 155h1v1h-1zM346 155h1v1h-1zM414 155h2v1h-2zM87 156h2v1h-2zM155 156h1v1h-1zM195 156h1v1h-1zM305 156h1v1h-1zM345 156h1v1h-1zM413 156h1v1h-1zM89 157h1v1h-1zM156 157h1v1h-1zM344 157h1v1h-1zM411 157h2v1h-2zM90 158h2v1h-2zM157 158h1v1h-1zM343 158h1v1h-1zM409 158h2v1h-2zM92 159h2v1h-2zM158 159h1v1h-1zM342 159h1v1h-1zM408 159h1v1h-1zM94 160h2v1h-2zM159 160h1v1h-1zM341 160h1v1h-1zM406 160h2v1h-2zM96 161h1v1h-1zM160 161h1v1h-1zM340 161h1v1h-1zM404 161h2v1h-2zM97 162h2v1h-2zM161 162h1v1h-1zM339 162h1v1h-1zM402 162h2v1h-2zM99 163h2v1h-2zM162 163h1v1h-1zM199 163h1v1h-1zM301 163h1v1h-1zM338 163h1v1h-1zM401 163h1v1h-1zM101 164h1v1h-1zM163 164h1v1h-1zM337 164h1v1h-1zM399 164h2v1h-2zM102 165h2v1h-2zM164 165h1v1h-1zM336 165h1v1h-1zM397 165h2v1h-2zM104 166h2v1h-2zM165 166h1v1h-1zM335 166h1v1h-1zM395 166h2v1h-2zM106 167h2v1h-2zM166 167h1v1h-1zM334 167h1v1h-1zM394 167h1v1h-1zM108 168h1v1h-1zM167 168h1v1h-1zM333 168h1v1h-1zM392 168h2v1h-2zM109 169h2v1h-2zM168 169h1v1h-1zM332 169h1v1h-1zM390 169h2v1h-2zM111 170h2v1h-2zM169 170h1v1h-1zM203 170h1v1h-1zM297 170h1v1h-1zM331 170h1v1h-1zM389 170h1v1h-1zM113 171h1v1h-1zM170 171h1v1h-1zM330 171h1v1h-1zM387 171h2v1h-2zM114 172h2v1h-2zM171 172h1v1h-1zM329 172h1v1h-1zM385 172h2v1h-2zM116 173h2v1h-2zM172 173h1v1h-1zM328 173h1v1h-1zM383 173h2v1h-2zM118 174h2v1h-2zM173 174h1v1h-1zM327 174h1v1h-1zM382 174h1v1h-1zM120 175h1v1h-1zM174 175h1v1h-1zM206 175h1v1h-1zM294 175h1v1h-1zM326 175h1v1h-1zM380 175h2v1h-2zM121 176h2v1h-2zM175 176h1v1h-1zM325 176h1v1h-1zM378 176h2v1h-2zM123 177h2v1h-2zM176 177h1v1h-1zM324 177h1v1h-1zM377 177h1v1h-1zM125 178h1v1h-1zM177 178h1v1h-1zM323 178h1v1h-1zM375 178h2v1h-2zM126 179h2v1h-2zM178 179h1v1h-1zM322 179h1v1h-1zM373 179h2v1h-2zM128 180h2v1h-2zM179 180h1v1h-1zM321 180h1v1h-1zM371 180h2v1h-2zM130 181h2v1h-2zM180 181h1v1h-1zM320 181h1v1h-1zM370 181h1v1h-1zM132 182h1v1h-1zM181 182h1v1h-1zM210 182h1v1h-1zM290 182h1v1h-1zM319 182h1v1h-1zM368 182h2v1h-2zM133 183h2v1h-2zM182 183h1v1h-1zM318 183h1v1h-1zM366 183h2v1h-2zM135 184h2v1h-2zM183 184h1v1h-1zM317 184h1v1h-1zM365 184h1v1h-1zM137 185h1v1h-1zM184 185h1v1h-1zM316 185h1v1h-1zM363 185h2v1h-2zM138 186h2v1h-2zM185 186h1v1h-1zM315 186h1v1h-1zM361 186h2v1h-2zM140 187h2v1h-2zM186 187h1v1h-1zM314 187h1v1h-1zM359 187h2v1h-2zM142 188h2v1h-2zM187 188h1v1h-1zM313 188h1v1h-1zM358 188h1v1h-1zM144 189h1v1h-1zM188 189h1v1h-1zM214 189h1v1h-1zM286 189h1v1h-1zM312 189h1v1h-1zM356 189h2v1h-2zM145 190h2v1h-2zM189 190h1v1h-1zM311 190h1v1h-1zM354 190h2v1h-2zM147 191h2v1h-2zM190 191h1v1h-1zM310 191h1v1h-1zM352 191h2v1h-2zM149 192h1v1h-1zM191 192h1v1h-1zM309 192h1v1h-1zM351 192h1v1h-1zM36 193h3v1h-3zM150 193h2v1h-2zM192 193h1v1h-1zM308 193h1v1h-1zM349 193h2v1h-2zM461 193h4v1h-4zM39 194h4v1h-4zM152 194h2v1h-2zM193 194h1v1h-1zM307 194h1v1h-1zM347 194h2v1h-2zM458 194h3v1h-3zM43 195h3v1h-3zM154 195h2v1h-2zM194 195h1v1h-1zM306 195h1v1h-1zM346 195h1v1h-1zM454 195h4v1h-4zM46 196h4v1h-4zM156 196h1v1h-1zM195 196h1v1h-1zM218 196h1v1h-1zM282 196h1v1h-1zM305 196h1v1h-1zM344 196h2v1h-2zM450 196h4v1h-4zM50 197h4v1h-4zM157 197h2v1h-2zM196 197h1v1h-1zM304 197h1v1h-1zM342 197h2v1h-2zM447 197h3v1h-3zM54 198h3v1h-3zM159 198h2v1h-2zM197 198h1v1h-1zM303 198h1v1h-1zM340 198h2v1h-2zM443 198h4v1h-4zM57 199h4v1h-4zM161 199h1v1h-1zM198 199h1v1h-1zM302 199h1v1h-1zM339 199h1v1h-1zM439 199h4v1h-4zM61 200h4v1h-4zM162 200h2v1h-2zM199 200h1v1h-1zM301 200h1v1h-1zM337 200h2v1h-2zM436 200h3v1h-3zM65 201h3v1h-3zM164 201h2v1h-2zM200 201h1v1h-1zM221 201h1v1h-1zM279 201h1v1h-1zM300 201h1v1h-1zM335 201h2v1h-2zM432 201h4v1h-4zM68 202h4v1h-4zM166 202h2v1h-2zM201 202h1v1h-1zM299 202h1v1h-1zM334 202h1v1h-1zM428 202h4v1h-4zM72 203h4v1h-4zM168 203h1v1h-1zM202 203h1v1h-1zM298 203h1v1h-1zM332 203h2v1h-2zM425 203h3v1h-3zM76 204h3v1h-3zM169 204h2v1h-2zM203 204h1v1h-1zM297 204h1v1h-1zM330 204h2v1h-2zM421 204h4v1h-4zM79 205h4v1h-4zM171 205h2v1h-2zM204 205h1v1h-1zM296 205h1v1h-1zM328 205h2v1h-2zM417 205h4v1h-4zM83 206h4v1h-4zM173 206h1v1h-1zM205 206h1v1h-1zM295 206h1v1h-1zM327 206h1v1h-1zM414 206h3v1h-3zM87 207h3v1h-3zM174 207h2v1h-2zM206 207h1v1h-1zM294 207h1v1h-1zM325 207h2v1h-2zM410 207h4v1h-4zM90 208h4v1h-4zM176 208h2v1h-2zM207 208h1v1h-1zM225 208h1v1h-1zM275 208h1v1h-1zM293 208h1v1h-1zM323 208h2v1h-2zM407 208h3v1h-3zM94 209h4v1h-4zM178 209h2v1h-2zM208 209h1v1h-1zM292 209h1v1h-1zM322 209h1v1h-1zM403 209h4v1h-4zM98 210h3v1h-3zM180 210h1v1h-1zM209 210h1v1h-1zM291 210h1v1h-1zM320 210h2v1h-2zM399 210h4v1h-4zM101 211h4v1h-4zM181 211h2v1h-2zM210 211h1v1h-1zM290 211h1v1h-1zM318 211h2v1h-2zM396 211h3v1h-3zM105 212h4v1h-4zM183 212h2v1h-2zM211 212h1v1h-1zM289 212h1v1h-1zM316 212h2v1h-2zM392 212h4v1h-4zM109 213h3v1h-3zM185 213h1v1h-1zM212 213h1v1h-1zM288 213h1v1h-1zM315 213h1v1h-1zM388 213h4v1h-4zM112 214h4v1h-4zM186 214h2v1h-2zM213 214h1v1h-1zM287 214h1v1h-1zM313 214h2v1h-2zM385 214h3v1h-3zM116 215h3v1h-3zM188 215h2v1h-2zM214 215h1v1h-1zM229 215h1v1h-1zM271 215h1v1h-1zM286 215h1v1h-1zM311 215h2v1h-2zM381 215h4v1h-4zM119 216h4v1h-4zM190 216h2v1h-2zM215 216h1v1h-1zM285 216h1v1h-1zM310 216h1v1h-1zM377 216h4v1h-4zM123 217h4v1h-4zM192 217h1v1h-1zM216 217h1v1h-1zM284 217h1v1h-1zM308 217h2v1h-2zM374 217h3v1h-3zM127 218h3v1h-3zM193 218h2v1h-2zM217 218h1v1h-1zM283 218h1v1h-1zM306 218h2v1h-2zM370 218h4v1h-4zM130 219h4v1h-4zM195 219h2v1h-2zM218 219h1v1h-1zM282 219h1v1h-1zM304 219h2v1h-2zM366 219h4v1h-4zM134 220h4v1h-4zM197 220h1v1h-1zM219 220h1v1h-1zM281 220h1v1h-1zM303 220h1v1h-1zM363 220h3v1h-3zM138 221h3v1h-3zM198 221h2v1h-2zM220 221h1v1h-1zM280 221h1v1h-1zM301 221h2v1h-2zM359 221h4v1h-4zM141 222h4v1h-4zM200 222h2v1h-2zM221 222h1v1h-1zM233 222h1v1h-1zM267 222h1v1h-1zM279 222h1v1h-1zM299 222h2v1h-2zM355 222h4v1h-4zM145 223h4v1h-4zM202 223h2v1h-2zM222 223h1v1h-1zM278 223h1v1h-1zM297 223h2v1h-2zM352 223h3v1h-3zM149 224h3v1h-3zM204 224h1v1h-1zM223 224h1v1h-1zM277 224h1v1h-1zM296 224h1v1h-1zM348 224h4v1h-4zM152 225h4v1h-4zM205 225h2v1h-2zM224 225h1v1h-1zM276 225h1v1h-1zM294 225h2v1h-2zM345 225h3v1h-3zM156 226h4v1h-4zM207 226h2v1h-2zM225 226h1v1h-1zM275 226h1v1h-1zM292 226h2v1h-2zM341 226h4v1h-4zM160 227h3v1h-3zM209 227h1v1h-1zM226 227h1v1h-1zM236 227h1v1h-1zM264 227h1v1h-1zM274 227h1v1h-1zM291 227h1v1h-1zM337 227h4v1h-4zM163 228h4v1h-4zM210 228h2v1h-2zM227 228h1v1h-1zM273 228h1v1h-1zM289 228h2v1h-2zM334 228h3v1h-3zM167 229h4v1h-4zM212 229h2v1h-2zM228 229h1v1h-1zM272 229h1v1h-1zM287 229h2v1h-2zM330 229h4v1h-4zM171 230h3v1h-3zM214 230h2v1h-2zM229 230h1v1h-1zM271 230h1v1h-1zM285 230h2v1h-2zM326 230h4v1h-4zM174 231h4v1h-4zM216 231h1v1h-1zM230 231h1v1h-1zM270 231h1v1h-1zM284 231h1v1h-1zM323 231h3v1h-3zM178 232h4v1h-4zM217 232h2v1h-2zM231 232h1v1h-1zM269 232h1v1h-1zM282 232h2v1h-2zM319 232h4v1h-4zM182 233h3v1h-3zM219 233h2v1h-2zM232 233h1v1h-1zM268 233h1v1h-1zM280 233h2v1h-2zM315 233h4v1h-4zM185 234h4v1h-4zM221 234h1v1h-1zM233 234h1v1h-1zM240 234h1v1h-1zM260 234h1v1h-1zM267 234h1v1h-1zM279 234h1v1h-1zM312 234h3v1h-3zM189 235h4v1h-4zM222 235h2v1h-2zM234 235h1v1h-1zM266 235h1v1h-1zM277 235h2v1h-2zM308 235h4v1h-4zM193 236h3v1h-3zM224 236h2v1h-2zM235 236h1v1h-1zM265 236h1v1h-1zM275 236h2v1h-2zM304 236h4v1h-4zM196 237h4v1h-4zM226 237h2v1h-2zM236 237h1v1h-1zM264 237h1v1h-1zM273 237h2v1h-2zM301 237h3v1h-3zM200 238h4v1h-4zM228 238h1v1h-1zM237 238h1v1h-1zM263 238h1v1h-1zM272 238h1v1h-1zM297 238h4v1h-4zM204 239h3v1h-3zM229 239h2v1h-2zM238 239h1v1h-1zM262 239h1v1h-1zM270 239h2v1h-2zM293 239h4v1h-4zM207 240h4v1h-4zM231 240h2v1h-2zM239 240h1v1h-1zM261 240h1v1h-1zM268 240h2v1h-2zM290 240h3v1h-3zM211 241h4v1h-4zM233 241h1v1h-1zM240 241h1v1h-1zM244 241h1v1h-1zM256 241h1v1h-1zM260 241h1v1h-1zM267 241h1v1h-1zM286 241h4v1h-4zM215 242h3v1h-3zM234 242h2v1h-2zM241 242h1v1h-1zM259 242h1v1h-1zM265 242h2v1h-2zM283 242h3v1h-3zM218 243h4v1h-4zM236 243h2v1h-2zM242 243h1v1h-1zM258 243h1v1h-1zM263 243h2v1h-2zM279 243h4v1h-4zM222 244h4v1h-4zM238 244h2v1h-2zM261 244h2v1h-2zM275 244h4v1h-4zM226 245h3v1h-3zM240 245h1v1h-1zM260 245h1v1h-1zM272 245h3v1h-3zM229 246h4v1h-4zM268 246h4v1h-4zM233 247h4v1h-4zM264 247h4v1h-4zM237 248h2v1h-2zM262 248h2v1h-2zM36 251h203v1h-203zM262 251h203v1h-203zM238 254h1v1h-1zM262 254h2v1h-2zM236 255h1v1h-1zM264 255h4v1h-4zM232 256h1v1h-1zM268 256h3v1h-3zM240 257h1v1h-1zM260 257h1v1h-1zM272 257h1v1h-1zM238 258h2v1h-2zM261 258h2v1h-2zM218 259h2v1h-2zM236 259h2v1h-2zM242 259h1v1h-1zM258 259h1v1h-1zM263 259h2v1h-2zM214 260h4v1h-4zM234 260h2v1h-2zM241 260h1v1h-1zM259 260h1v1h-1zM265 260h2v1h-2zM284 260h3v1h-3zM211 261h3v1h-3zM233 261h1v1h-1zM240 261h1v1h-1zM244 261h1v1h-1zM256 261h1v1h-1zM260 261h1v1h-1zM267 261h1v1h-1zM287 261h3v1h-3zM207 262h4v1h-4zM231 262h2v1h-2zM239 262h1v1h-1zM261 262h1v1h-1zM268 262h2v1h-2zM290 262h4v1h-4zM203 263h4v1h-4zM229 263h2v1h-2zM238 263h1v1h-1zM262 263h1v1h-1zM270 263h2v1h-2zM294 263h4v1h-4zM199 264h4v1h-4zM227 264h2v1h-2zM237 264h1v1h-1zM263 264h1v1h-1zM272 264h2v1h-2zM298 264h3v1h-3zM196 265h3v1h-3zM226 265h1v1h-1zM236 265h1v1h-1zM264 265h1v1h-1zM274 265h1v1h-1zM301 265h4v1h-4zM192 266h4v1h-4zM224 266h2v1h-2zM235 266h1v1h-1zM265 266h1v1h-1zM275 266h2v1h-2zM305 266h4v1h-4zM188 267h4v1h-4zM222 267h2v1h-2zM234 267h1v1h-1zM266 267h1v1h-1zM277 267h2v1h-2zM309 267h3v1h-3zM185 268h3v1h-3zM220 268h2v1h-2zM233 268h1v1h-1zM240 268h1v1h-1zM260 268h1v1h-1zM267 268h1v1h-1zM279 268h2v1h-2zM312 268h4v1h-4zM181 269h4v1h-4zM219 269h1v1h-1zM232 269h1v1h-1zM268 269h1v1h-1zM281 269h1v1h-1zM316 269h4v1h-4zM177 270h4v1h-4zM217 270h2v1h-2zM231 270h1v1h-1zM269 270h1v1h-1zM282 270h2v1h-2zM320 270h4v1h-4zM173 271h4v1h-4zM215 271h2v1h-2zM230 271h1v1h-1zM270 271h1v1h-1zM284 271h2v1h-2zM324 271h3v1h-3zM170 272h3v1h-3zM214 272h1v1h-1zM229 272h1v1h-1zM271 272h1v1h-1zM286 272h2v1h-2zM327 272h4v1h-4zM166 273h4v1h-4zM212 273h2v1h-2zM228 273h1v1h-1zM237 273h1v1h-1zM263 273h1v1h-1zM272 273h1v1h-1zM288 273h1v1h-1zM331 273h4v1h-4zM162 274h4v1h-4zM210 274h2v1h-2zM227 274h1v1h-1zM273 274h1v1h-1zM289 274h2v1h-2zM335 274h3v1h-3zM159 275h3v1h-3zM208 275h2v1h-2zM226 275h1v1h-1zM274 275h1v1h-1zM291 275h2v1h-2zM338 275h4v1h-4zM155 276h4v1h-4zM207 276h1v1h-1zM225 276h1v1h-1zM275 276h1v1h-1zM293 276h2v1h-2zM342 276h4v1h-4zM151 277h4v1h-4zM205 277h2v1h-2zM224 277h1v1h-1zM276 277h1v1h-1zM295 277h1v1h-1zM346 277h4v1h-4zM147 278h4v1h-4zM204 278h1v1h-1zM223 278h1v1h-1zM277 278h1v1h-1zM296 278h2v1h-2zM350 278h3v1h-3zM144 279h3v1h-3zM222 279h1v1h-1zM278 279h1v1h-1zM298 279h2v1h-2zM353 279h4v1h-4zM140 280h4v1h-4zM200 280h1v1h-1zM221 280h1v1h-1zM233 280h1v1h-1zM267 280h1v1h-1zM279 280h1v1h-1zM300 280h1v1h-1zM357 280h4v1h-4zM136 281h4v1h-4zM198 281h2v1h-2zM220 281h1v1h-1zM280 281h1v1h-1zM301 281h1v1h-1zM361 281h3v1h-3zM133 282h3v1h-3zM196 282h2v1h-2zM219 282h1v1h-1zM281 282h1v1h-1zM364 282h4v1h-4zM129 283h4v1h-4zM195 283h1v1h-1zM218 283h1v1h-1zM282 283h1v1h-1zM306 283h1v1h-1zM368 283h4v1h-4zM125 284h4v1h-4zM217 284h1v1h-1zM283 284h1v1h-1zM307 284h1v1h-1zM372 284h3v1h-3zM121 285h4v1h-4zM216 285h1v1h-1zM284 285h1v1h-1zM308 285h1v1h-1zM375 285h4v1h-4zM118 286h3v1h-3zM189 286h2v1h-2zM215 286h1v1h-1zM285 286h1v1h-1zM379 286h4v1h-4zM114 287h4v1h-4zM187 287h2v1h-2zM214 287h1v1h-1zM229 287h1v1h-1zM271 287h1v1h-1zM286 287h1v1h-1zM313 287h1v1h-1zM383 287h4v1h-4zM110 288h4v1h-4zM186 288h1v1h-1zM213 288h1v1h-1zM287 288h1v1h-1zM314 288h1v1h-1zM387 288h3v1h-3zM106 289h4v1h-4zM184 289h2v1h-2zM212 289h1v1h-1zM288 289h1v1h-1zM315 289h2v1h-2zM390 289h4v1h-4zM103 290h3v1h-3zM182 290h2v1h-2zM211 290h1v1h-1zM289 290h1v1h-1zM317 290h2v1h-2zM394 290h4v1h-4zM99 291h4v1h-4zM180 291h2v1h-2zM210 291h1v1h-1zM290 291h1v1h-1zM319 291h2v1h-2zM398 291h3v1h-3zM95 292h4v1h-4zM179 292h1v1h-1zM209 292h1v1h-1zM226 292h1v1h-1zM274 292h1v1h-1zM291 292h1v1h-1zM321 292h1v1h-1zM401 292h4v1h-4zM92 293h3v1h-3zM177 293h2v1h-2zM208 293h1v1h-1zM292 293h1v1h-1zM322 293h2v1h-2zM405 293h4v1h-4zM88 294h4v1h-4zM175 294h2v1h-2zM207 294h1v1h-1zM293 294h1v1h-1zM324 294h2v1h-2zM409 294h3v1h-3zM84 295h4v1h-4zM174 295h1v1h-1zM206 295h1v1h-1zM294 295h1v1h-1zM326 295h2v1h-2zM412 295h4v1h-4zM80 296h4v1h-4zM172 296h2v1h-2zM205 296h1v1h-1zM295 296h1v1h-1zM328 296h1v1h-1zM416 296h4v1h-4zM77 297h3v1h-3zM170 297h2v1h-2zM204 297h1v1h-1zM296 297h1v1h-1zM329 297h2v1h-2zM420 297h4v1h-4zM73 298h4v1h-4zM168 298h2v1h-2zM203 298h1v1h-1zM297 298h1v1h-1zM331 298h2v1h-2zM424 298h3v1h-3zM69 299h4v1h-4zM167 299h1v1h-1zM202 299h1v1h-1zM222 299h1v1h-1zM278 299h1v1h-1zM298 299h1v1h-1zM333 299h2v1h-2zM427 299h4v1h-4zM66 300h3v1h-3zM165 300h2v1h-2zM201 300h1v1h-1zM299 300h1v1h-1zM335 300h1v1h-1zM431 300h4v1h-4zM62 301h4v1h-4zM163 301h2v1h-2zM200 301h1v1h-1zM300 301h1v1h-1zM336 301h2v1h-2zM435 301h3v1h-3zM58 302h4v1h-4zM161 302h2v1h-2zM199 302h1v1h-1zM301 302h1v1h-1zM338 302h2v1h-2zM438 302h4v1h-4zM54 303h4v1h-4zM160 303h1v1h-1zM198 303h1v1h-1zM302 303h1v1h-1zM340 303h2v1h-2zM442 303h4v1h-4zM51 304h3v1h-3zM158 304h2v1h-2zM197 304h1v1h-1zM219 304h1v1h-1zM281 304h1v1h-1zM303 304h1v1h-1zM342 304h1v1h-1zM446 304h4v1h-4zM47 305h4v1h-4zM156 305h2v1h-2zM196 305h1v1h-1zM304 305h1v1h-1zM343 305h2v1h-2zM450 305h3v1h-3zM43 306h4v1h-4zM154 306h2v1h-2zM195 306h1v1h-1zM305 306h1v1h-1zM345 306h2v1h-2zM453 306h4v1h-4zM40 307h3v1h-3zM153 307h1v1h-1zM194 307h1v1h-1zM306 307h1v1h-1zM347 307h2v1h-2zM457 307h4v1h-4zM36 308h4v1h-4zM151 308h2v1h-2zM193 308h1v1h-1zM307 308h1v1h-1zM349 308h1v1h-1zM461 308h3v1h-3zM149 309h2v1h-2zM192 309h1v1h-1zM308 309h1v1h-1zM350 309h2v1h-2zM464 309h1v1h-1zM147 310h2v1h-2zM191 310h1v1h-1zM309 310h1v1h-1zM352 310h2v1h-2zM146 311h1v1h-1zM190 311h1v1h-1zM215 311h1v1h-1zM285 311h1v1h-1zM310 311h1v1h-1zM354 311h2v1h-2zM144 312h2v1h-2zM189 312h1v1h-1zM311 312h1v1h-1zM356 312h1v1h-1zM142 313h2v1h-2zM188 313h1v1h-1zM312 313h1v1h-1zM357 313h2v1h-2zM140 314h2v1h-2zM313 314h1v1h-1zM359 314h2v1h-2zM139 315h1v1h-1zM314 315h1v1h-1zM361 315h2v1h-2zM137 316h2v1h-2zM185 316h1v1h-1zM315 316h1v1h-1zM363 316h1v1h-1zM135 317h2v1h-2zM184 317h1v1h-1zM316 317h1v1h-1zM364 317h2v1h-2zM134 318h1v1h-1zM183 318h1v1h-1zM211 318h1v1h-1zM289 318h1v1h-1zM366 318h2v1h-2zM132 319h2v1h-2zM182 319h1v1h-1zM368 319h2v1h-2zM130 320h2v1h-2zM181 320h1v1h-1zM319 320h1v1h-1zM370 320h1v1h-1zM128 321h2v1h-2zM180 321h1v1h-1zM320 321h1v1h-1zM371 321h2v1h-2zM127 322h1v1h-1zM179 322h1v1h-1zM321 322h1v1h-1zM373 322h2v1h-2zM125 323h2v1h-2zM208 323h1v1h-1zM292 323h1v1h-1zM322 323h1v1h-1zM375 323h2v1h-2zM123 324h2v1h-2zM377 324h1v1h-1zM121 325h2v1h-2zM176 325h1v1h-1zM378 325h2v1h-2zM120 326h1v1h-1zM175 326h1v1h-1zM325 326h1v1h-1zM380 326h2v1h-2zM118 327h2v1h-2zM174 327h1v1h-1zM326 327h1v1h-1zM382 327h1v1h-1zM116 328h2v1h-2zM173 328h1v1h-1zM327 328h1v1h-1zM383 328h2v1h-2zM114 329h2v1h-2zM172 329h1v1h-1zM328 329h1v1h-1zM385 329h2v1h-2zM113 330h1v1h-1zM171 330h1v1h-1zM204 330h1v1h-1zM296 330h1v1h-1zM329 330h1v1h-1zM387 330h2v1h-2zM111 331h2v1h-2zM170 331h1v1h-1zM330 331h1v1h-1zM389 331h1v1h-1zM109 332h2v1h-2zM169 332h1v1h-1zM331 332h1v1h-1zM390 332h2v1h-2zM107 333h2v1h-2zM168 333h1v1h-1zM332 333h1v1h-1zM392 333h2v1h-2zM106 334h1v1h-1zM167 334h1v1h-1zM333 334h1v1h-1zM394 334h2v1h-2zM104 335h2v1h-2zM166 335h1v1h-1zM334 335h1v1h-1zM396 335h1v1h-1zM102 336h2v1h-2zM165 336h1v1h-1zM335 336h1v1h-1zM397 336h2v1h-2zM100 337h2v1h-2zM164 337h1v1h-1zM200 337h1v1h-1zM300 337h1v1h-1zM336 337h1v1h-1zM399 337h2v1h-2zM99 338h1v1h-1zM163 338h1v1h-1zM337 338h1v1h-1zM401 338h2v1h-2zM97 339h2v1h-2zM162 339h1v1h-1zM338 339h1v1h-1zM403 339h1v1h-1zM95 340h2v1h-2zM161 340h1v1h-1zM339 340h1v1h-1zM404 340h2v1h-2zM94 341h1v1h-1zM160 341h1v1h-1zM340 341h1v1h-1zM406 341h2v1h-2zM92 342h2v1h-2zM159 342h1v1h-1zM197 342h1v1h-1zM303 342h1v1h-1zM341 342h1v1h-1zM408 342h2v1h-2zM90 343h2v1h-2zM158 343h1v1h-1zM342 343h1v1h-1zM410 343h1v1h-1zM88 344h2v1h-2zM157 344h1v1h-1zM343 344h1v1h-1zM411 344h2v1h-2zM87 345h1v1h-1zM156 345h1v1h-1zM344 345h1v1h-1zM413 345h2v1h-2zM85 346h2v1h-2zM155 346h1v1h-1zM345 346h1v1h-1zM415 346h2v1h-2zM83 347h2v1h-2zM154 347h1v1h-1zM346 347h1v1h-1zM417 347h1v1h-1zM81 348h2v1h-2zM153 348h1v1h-1zM347 348h1v1h-1zM418 348h2v1h-2zM80 349h1v1h-1zM152 349h1v1h-1zM193 349h1v1h-1zM307 349h1v1h-1zM348 349h1v1h-1zM420 349h2v1h-2zM78 350h2v1h-2zM151 350h1v1h-1zM349 350h1v1h-1zM422 350h2v1h-2zM76 351h2v1h-2zM150 351h1v1h-1zM350 351h1v1h-1zM424 351h1v1h-1zM74 352h2v1h-2zM149 352h1v1h-1zM351 352h1v1h-1zM425 352h2v1h-2zM73 353h1v1h-1zM148 353h1v1h-1zM352 353h1v1h-1zM427 353h2v1h-2zM71 354h2v1h-2zM147 354h1v1h-1zM190 354h1v1h-1zM310 354h1v1h-1zM353 354h1v1h-1zM429 354h2v1h-2zM69 355h2v1h-2zM146 355h1v1h-1zM354 355h1v1h-1zM431 355h1v1h-1zM67 356h2v1h-2zM145 356h1v1h-1zM355 356h1v1h-1zM432 356h2v1h-2zM66 357h1v1h-1zM144 357h1v1h-1zM356 357h1v1h-1zM434 357h2v1h-2zM64 358h2v1h-2zM143 358h1v1h-1zM357 358h1v1h-1zM436 358h2v1h-2zM62 359h2v1h-2zM142 359h1v1h-1zM358 359h1v1h-1zM438 359h1v1h-1zM60 360h2v1h-2zM141 360h1v1h-1zM359 360h1v1h-1zM439 360h2v1h-2zM59 361h1v1h-1zM140 361h1v1h-1zM186 361h1v1h-1zM360 361h1v1h-1zM441 361h2v1h-2zM57 362h2v1h-2zM138 362h2v1h-2zM361 362h2v1h-2zM443 362h2v1h-2zM55 363h2v1h-2zM137 363h1v1h-1zM363 363h1v1h-1zM445 363h1v1h-1zM54 364h1v1h-1zM136 364h1v1h-1zM184 364h1v1h-1zM364 364h1v1h-1zM446 364h2v1h-2zM52 365h2v1h-2zM135 365h1v1h-1zM365 365h1v1h-1zM448 365h2v1h-2zM50 366h2v1h-2zM134 366h1v1h-1zM317 366h1v1h-1zM366 366h1v1h-1zM450 366h2v1h-2zM48 367h2v1h-2zM133 367h1v1h-1zM367 367h1v1h-1zM452 367h1v1h-1zM47 368h1v1h-1zM132 368h1v1h-1zM182 368h1v1h-1zM368 368h1v1h-1zM453 368h2v1h-2zM45 369h2v1h-2zM131 369h1v1h-1zM369 369h1v1h-1zM455 369h2v1h-2zM43 370h2v1h-2zM130 370h1v1h-1zM370 370h1v1h-1zM457 370h2v1h-2zM41 371h2v1h-2zM129 371h1v1h-1zM371 371h1v1h-1zM459 371h1v1h-1zM40 372h1v1h-1zM128 372h1v1h-1zM372 372h1v1h-1zM460 372h2v1h-2zM38 373h2v1h-2zM127 373h1v1h-1zM179 373h1v1h-1zM321 373h1v1h-1zM373 373h1v1h-1zM462 373h2v1h-2zM36 374h2v1h-2zM126 374h1v1h-1zM374 374h1v1h-1zM464 374h1v1h-1zM125 375h1v1h-1zM375 375h1v1h-1zM124 376h1v1h-1zM376 376h1v1h-1zM123 377h1v1h-1zM377 377h1v1h-1zM122 378h1v1h-1zM378 378h1v1h-1zM121 379h1v1h-1zM379 379h1v1h-1zM120 380h1v1h-1zM175 380h1v1h-1zM325 380h1v1h-1zM380 380h1v1h-1zM119 381h1v1h-1zM381 381h1v1h-1zM118 382h1v1h-1zM382 382h1v1h-1zM117 383h1v1h-1zM383 383h1v1h-1zM116 384h1v1h-1zM384 384h1v1h-1zM115 385h1v1h-1zM385 385h1v1h-1zM114 386h1v1h-1zM386 386h1v1h-1zM113 387h1v1h-1zM171 387h1v1h-1zM329 387h1v1h-1zM387 387h1v1h-1zM112 388h1v1h-1zM388 388h1v1h-1zM111 389h1v1h-1zM389 389h1v1h-1zM110 390h1v1h-1zM390 390h1v1h-1zM109 391h1v1h-1zM391 391h1v1h-1zM108 392h1v1h-1zM168 392h1v1h-1zM332 392h1v1h-1zM392 392h1v1h-1zM107 393h1v1h-1zM393 393h1v1h-1zM106 394h1v1h-1zM211 394h1v1h-1zM394 394h1v1h-1zM105 395h1v1h-1zM395 395h1v1h-1zM104 396h1v1h-1zM396 396h1v1h-1zM103 397h1v1h-1zM211 397h1v1h-1zM397 397h1v1h-1zM102 398h1v1h-1zM210 398h1v1h-1zM290 398h1v1h-1zM398 398h1v1h-1zM101 399h1v1h-1zM164 399h1v1h-1zM336 399h1v1h-1zM399 399h1v1h-1zM100 400h1v1h-1zM400 400h1v1h-1zM99 401h1v1h-1zM210 401h1v1h-1zM401 401h1v1h-1zM98 402h1v1h-1zM402 402h1v1h-1zM97 403h1v1h-1zM403 403h1v1h-1zM96 404h1v1h-1zM404 404h1v1h-1zM95 405h1v1h-1zM405 405h1v1h-1zM94 406h1v1h-1zM160 406h1v1h-1zM340 406h1v1h-1zM406 406h1v1h-1zM93 407h1v1h-1zM407 407h1v1h-1zM92 408h1v1h-1zM408 408h1v1h-1zM91 409h1v1h-1zM409 409h1v1h-1zM90 410h1v1h-1zM410 410h1v1h-1zM89 411h1v1h-1zM157 411h1v1h-1zM343 411h1v1h-1zM411 411h1v1h-1zM88 412h1v1h-1zM412 412h1v1h-1zM87 413h1v1h-1zM413 413h1v1h-1zM86 414h1v1h-1zM414 414h1v1h-1zM85 415h1v1h-1zM415 415h1v1h-1zM84 416h1v1h-1zM416 416h1v1h-1zM83 417h1v1h-1zM417 417h1v1h-1zM82 418h1v1h-1zM153 418h1v1h-1zM347 418h1v1h-1zM418 418h1v1h-1zM81 419h1v1h-1zM419 419h1v1h-1zM80 420h1v1h-1zM420 420h1v1h-1zM79 421h1v1h-1zM421 421h1v1h-1zM78 422h1v1h-1zM422 422h1v1h-1zM77 423h1v1h-1zM150 423h1v1h-1zM350 423h1v1h-1zM423 423h1v1h-1zM76 424h1v1h-1zM424 424h1v1h-1zM75 425h1v1h-1zM425 425h1v1h-1zM74 426h1v1h-1zM426 426h1v1h-1zM73 427h1v1h-1zM427 427h1v1h-1zM72 428h1v1h-1zM428 428h1v1h-1zM71 429h1v1h-1zM429 429h1v1h-1zM70 430h1v1h-1zM146 430h1v1h-1zM354 430h1v1h-1zM430 430h1v1h-1zM69 431h1v1h-1zM431 431h1v1h-1zM68 432h1v1h-1zM432 432h1v1h-1zM67 433h1v1h-1zM433 433h1v1h-1zM66 434h1v1h-1zM434 434h1v1h-1zM65 435h1v1h-1zM435 435h1v1h-1zM64 436h1v1h-1zM436 436h1v1h-1zM63 437h1v1h-1zM142 437h1v1h-1zM358 437h1v1h-1zM437 437h1v1h-1zM62 438h1v1h-1zM438 438h1v1h-1zM61 439h1v1h-1zM439 439h1v1h-1zM60 440h1v1h-1zM440 440h1v1h-1zM59 441h1v1h-1zM441 441h1v1h-1zM58 442h1v1h-1zM139 442h1v1h-1zM361 442h1v1h-1zM442 442h1v1h-1zM57 443h1v1h-1zM443 443h1v1h-1zM56 444h1v1h-1zM444 444h1v1h-1zM55 445h1v1h-1zM445 445h1v1h-1zM54 446h1v1h-1zM446 446h1v1h-1zM53 447h1v1h-1zM447 447h1v1h-1zM52 448h1v1h-1zM448 448h1v1h-1zM51 449h1v1h-1zM135 449h1v1h-1zM365 449h1v1h-1zM449 449h1v1h-1zM50 450h1v1h-1zM450 450h1v1h-1zM49 451h1v1h-1zM451 451h1v1h-1zM48 452h1v1h-1zM452 452h1v1h-1zM47 453h1v1h-1zM453 453h1v1h-1zM46 454h1v1h-1zM454 454h1v1h-1zM45 455h1v1h-1zM455 455h1v1h-1zM44 456h1v1h-1zM131 456h1v1h-1zM369 456h1v1h-1zM456 456h1v1h-1zM43 457h1v1h-1zM457 457h1v1h-1zM42 458h1v1h-1zM458 458h1v1h-1zM41 459h1v1h-1zM459 459h1v1h-1zM40 460h1v1h-1zM460 460h1v1h-1zM39 461h1v1h-1zM128 461h1v1h-1zM372 461h1v1h-1zM461 461h1v1h-1zM38 462h1v1h-1zM462 462h1v1h-1zM37 463h1v1h-1zM463 463h1v1h-1zM36 464h1v1h-1zM126 464h1v1h-1zM192 464h1v1h-1zM308 464h1v1h-1zM374 464h1v1h-1zM464 464h1v1h-1zM126 36v2h1v-2zM127 38v2h1v-2zM127 462v2h1v-2zM129 41v2h1v-2zM129 459v2h1v-2zM130 43v2h1v-2zM130 457v2h1v-2zM132 46v2h1v-2zM132 454v2h1v-2zM133 48v2h1v-2zM133 452v2h1v-2zM134 50v2h1v-2zM134 450v2h1v-2zM136 53v2h1v-2zM136 447v2h1v-2zM137 55v2h1v-2zM137 445v2h1v-2zM138 57v2h1v-2zM138 443v2h1v-2zM139 139v2h1v-2zM140 60v2h1v-2zM140 440v2h1v-2zM141 62v2h1v-2zM141 438v2h1v-2zM142 64v2h1v-2zM143 435v2h1v-2zM144 67v2h1v-2zM144 433v2h1v-2zM145 69v2h1v-2zM145 431v2h1v-2zM147 72v2h1v-2zM147 428v2h1v-2zM148 74v2h1v-2zM148 426v2h1v-2zM149 76v2h1v-2zM149 424v2h1v-2zM151 79v2h1v-2zM151 421v2h1v-2zM152 81v2h1v-2zM152 419v2h1v-2zM153 83v2h1v-2zM154 416v2h1v-2zM155 86v2h1v-2zM155 414v2h1v-2zM156 88v2h1v-2zM156 412v2h1v-2zM157 90v2h1v-2zM158 409v2h1v-2zM159 93v2h1v-2zM159 407v2h1v-2zM160 95v2h1v-2zM161 404v2h1v-2zM162 98v2h1v-2zM162 402v2h1v-2zM163 100v2h1v-2zM163 400v2h1v-2zM164 102v2h1v-2zM165 397v2h1v-2zM166 105v2h1v-2zM166 395v2h1v-2zM167 107v2h1v-2zM167 393v2h1v-2zM168 109v2h1v-2zM169 390v2h1v-2zM170 112v2h1v-2zM170 388v2h1v-2zM171 114v2h1v-2zM172 116v2h1v-2zM172 385v2h1v-2zM173 383v2h1v-2zM174 119v2h1v-2zM174 381v2h1v-2zM175 121v2h1v-2zM176 378v2h1v-2zM177 124v2h1v-2zM177 376v2h1v-2zM178 126v2h1v-2zM178 374v2h1v-2zM179 128v2h1v-2zM180 371v2h1v-2zM181 131v2h1v-2zM181 369v2h1v-2zM182 133v2h1v-2zM183 135v2h1v-2zM185 138v2h1v-2zM185 362v2h1v-2zM186 140v2h1v-2zM187 142v2h1v-2zM187 359v2h1v-2zM189 145v2h1v-2zM190 147v2h1v-2zM191 352v2h1v-2zM192 36v3h1v-3zM192 150v2h1v-2zM192 350v2h1v-2zM193 39v4h1v-4zM193 152v2h1v-2zM193 461v3h1v-3zM194 43v3h1v-3zM194 154v2h1v-2zM194 347v2h1v-2zM194 457v4h1v-4zM195 46v4h1v-4zM195 345v2h1v-2zM195 453v4h1v-4zM196 50v4h1v-4zM196 157v2h1v-2zM196 343v2h1v-2zM196 450v3h1v-3zM197 54v3h1v-3zM197 159v2h1v-2zM197 446v4h1v-4zM198 57v4h1v-4zM198 161v2h1v-2zM198 340v2h1v-2zM198 442v4h1v-4zM199 61v4h1v-4zM199 338v2h1v-2zM199 439v3h1v-3zM200 65v4h1v-4zM200 164v2h1v-2zM200 435v4h1v-4zM201 69v3h1v-3zM201 166v2h1v-2zM201 335v2h1v-2zM201 431v4h1v-4zM202 72v4h1v-4zM202 168v2h1v-2zM202 333v2h1v-2zM202 428v3h1v-3zM203 76v4h1v-4zM203 331v2h1v-2zM203 424v4h1v-4zM204 80v3h1v-3zM204 171v2h1v-2zM204 420v4h1v-4zM205 83v4h1v-4zM205 173v2h1v-2zM205 328v2h1v-2zM205 417v3h1v-3zM206 87v4h1v-4zM206 326v2h1v-2zM206 413v4h1v-4zM207 91v3h1v-3zM207 176v2h1v-2zM207 324v2h1v-2zM207 409v4h1v-4zM208 94v4h1v-4zM208 178v2h1v-2zM208 405v4h1v-4zM209 98v4h1v-4zM209 180v2h1v-2zM209 321v2h1v-2zM209 402v3h1v-3zM210 102v3h1v-3zM210 319v2h1v-2zM211 105v4h1v-4zM211 183v2h1v-2zM212 109v4h1v-4zM212 185v2h1v-2zM212 316v2h1v-2zM212 391v3h1v-3zM213 113v3h1v-3zM213 187v2h1v-2zM213 314v2h1v-2zM213 387v4h1v-4zM214 116v4h1v-4zM214 312v2h1v-2zM214 383v4h1v-4zM215 120v4h1v-4zM215 190v2h1v-2zM215 380v3h1v-3zM216 124v3h1v-3zM216 192v2h1v-2zM216 309v2h1v-2zM216 376v4h1v-4zM217 127v4h1v-4zM217 194v2h1v-2zM217 307v2h1v-2zM217 372v4h1v-4zM218 131v4h1v-4zM218 305v2h1v-2zM218 369v3h1v-3zM219 135v3h1v-3zM219 197v2h1v-2zM219 365v4h1v-4zM220 138v4h1v-4zM220 199v2h1v-2zM220 302v2h1v-2zM220 361v4h1v-4zM221 142v4h1v-4zM221 300v2h1v-2zM221 358v3h1v-3zM222 146v3h1v-3zM222 202v2h1v-2zM222 354v4h1v-4zM223 149v4h1v-4zM223 204v2h1v-2zM223 297v2h1v-2zM223 350v4h1v-4zM224 153v4h1v-4zM224 206v2h1v-2zM224 295v2h1v-2zM224 346v4h1v-4zM225 157v3h1v-3zM225 293v2h1v-2zM225 343v3h1v-3zM226 160v4h1v-4zM226 209v2h1v-2zM226 339v4h1v-4zM227 164v4h1v-4zM227 211v2h1v-2zM227 290v2h1v-2zM227 335v4h1v-4zM228 168v3h1v-3zM228 213v2h1v-2zM228 288v2h1v-2zM228 332v3h1v-3zM229 171v4h1v-4zM229 328v4h1v-4zM230 175v4h1v-4zM230 216v2h1v-2zM230 285v2h1v-2zM230 324v4h1v-4zM231 179v4h1v-4zM231 218v2h1v-2zM231 283v2h1v-2zM231 321v3h1v-3zM232 183v3h1v-3zM232 220v2h1v-2zM232 281v2h1v-2zM232 317v4h1v-4zM233 186v4h1v-4zM233 313v4h1v-4zM234 190v4h1v-4zM234 223v2h1v-2zM234 278v2h1v-2zM234 310v3h1v-3zM235 194v3h1v-3zM235 225v2h1v-2zM235 276v2h1v-2zM235 306v4h1v-4zM236 197v4h1v-4zM236 274v2h1v-2zM236 302v4h1v-4zM237 201v4h1v-4zM237 228v2h1v-2zM237 299v3h1v-3zM238 205v3h1v-3zM238 230v2h1v-2zM238 271v2h1v-2zM238 295v4h1v-4zM239 208v4h1v-4zM239 232v2h1v-2zM239 269v2h1v-2zM239 291v4h1v-4zM240 212v4h1v-4zM240 287v4h1v-4zM241 216v3h1v-3zM241 235v2h1v-2zM241 266v2h1v-2zM241 284v3h1v-3zM242 219v4h1v-4zM242 237v2h1v-2zM242 264v2h1v-2zM242 280v4h1v-4zM243 223v4h1v-4zM243 239v2h1v-2zM243 262v2h1v-2zM243 276v4h1v-4zM244 227v3h1v-3zM244 273v3h1v-3zM245 230v4h1v-4zM245 269v4h1v-4zM246 234v4h1v-4zM246 265v4h1v-4zM247 238v2h1v-2zM247 263v2h1v-2zM250 36v204h1v-204zM250 263v149h1v-149zM250 415v50h1v-50zM253 238v2h1v-2zM253 263v2h1v-2zM254 234v4h1v-4zM254 265v4h1v-4zM255 230v4h1v-4zM255 269v4h1v-4zM256 227v3h1v-3zM256 273v3h1v-3zM257 223v4h1v-4zM257 239v2h1v-2zM257 262v2h1v-2zM257 276v4h1v-4zM258 219v4h1v-4zM258 237v2h1v-2zM258 264v2h1v-2zM258 280v4h1v-4zM259 216v3h1v-3zM259 235v2h1v-2zM259 266v2h1v-2zM259 284v3h1v-3zM260 212v4h1v-4zM260 287v4h1v-4zM261 208v4h1v-4zM261 232v2h1v-2zM261 269v2h1v-2zM261 291v4h1v-4zM262 205v3h1v-3zM262 230v2h1v-2zM262 271v2h1v-2zM262 295v4h1v-4zM263 201v4h1v-4zM263 228v2h1v-2zM263 299v3h1v-3zM264 197v4h1v-4zM264 274v2h1v-2zM264 302v4h1v-4zM265 194v3h1v-3zM265 225v2h1v-2zM265 276v2h1v-2zM265 306v4h1v-4zM266 190v4h1v-4zM266 223v2h1v-2zM266 278v2h1v-2zM266 310v3h1v-3zM267 186v4h1v-4zM267 313v4h1v-4zM268 183v3h1v-3zM268 220v2h1v-2zM268 281v2h1v-2zM268 317v4h1v-4zM269 179v4h1v-4zM269 218v2h1v-2zM269 283v2h1v-2zM269 321v3h1v-3zM270 175v4h1v-4zM270 216v2h1v-2zM270 285v2h1v-2zM270 324v4h1v-4zM271 171v4h1v-4zM271 328v4h1v-4zM272 168v3h1v-3zM272 213v2h1v-2zM272 288v2h1v-2zM272 332v3h1v-3zM273 164v4h1v-4zM273 211v2h1v-2zM273 290v2h1v-2zM273 335v4h1v-4zM274 160v4h1v-4zM274 209v2h1v-2zM274 339v4h1v-4zM275 157v3h1v-3zM275 293v2h1v-2zM275 343v3h1v-3zM276 153v4h1v-4zM276 206v2h1v-2zM276 295v2h1v-2zM276 346v4h1v-4zM277 149v4h1v-4zM277 204v2h1v-2zM277 297v2h1v-2zM277 350v4h1v-4zM278 146v3h1v-3zM278 202v2h1v-2zM278 354v4h1v-4zM279 142v4h1v-4zM279 300v2h1v-2zM279 358v3h1v-3zM280 138v4h1v-4zM280 199v2h1v-2zM280 302v2h1v-2zM280 361v4h1v-4zM281 135v3h1v-3zM281 197v2h1v-2zM281 365v4h1v-4zM282 131v4h1v-4zM282 305v2h1v-2zM282 369v3h1v-3zM283 127v4h1v-4zM283 194v2h1v-2zM283 307v2h1v-2zM283 372v4h1v-4zM284 124v3h1v-3zM284 192v2h1v-2zM284 309v2h1v-2zM284 376v4h1v-4zM285 120v4h1v-4zM285 190v2h1v-2zM285 380v3h1v-3zM286 116v4h1v-4zM286 312v2h1v-2zM286 383v4h1v-4zM287 113v3h1v-3zM287 187v2h1v-2zM287 314v2h1v-2zM287 387v4h1v-4zM288 109v4h1v-4zM288 185v2h1v-2zM288 316v2h1v-2zM288 391v3h1v-3zM289 105v4h1v-4zM289 183v2h1v-2zM289 394v4h1v-4zM290 102v3h1v-3zM290 319v2h1v-2zM291 98v4h1v-4zM291 180v2h1v-2zM291 321v2h1v-2zM291 402v3h1v-3zM292 94v4h1v-4zM292 178v2h1v-2zM292 405v4h1v-4zM293 91v3h1v-3zM293 176v2h1v-2zM293 324v2h1v-2zM293 409v4h1v-4zM294 87v4h1v-4zM294 326v2h1v-2zM294 413v4h1v-4zM295 83v4h1v-4zM295 173v2h1v-2zM295 328v2h1v-2zM295 417v3h1v-3zM296 80v3h1v-3zM296 171v2h1v-2zM296 420v4h1v-4zM297 76v4h1v-4zM297 331v2h1v-2zM297 424v4h1v-4zM298 72v4h1v-4zM298 168v2h1v-2zM298 333v2h1v-2zM298 428v3h1v-3zM299 69v3h1v-3zM299 166v2h1v-2zM299 335v2h1v-2zM299 431v4h1v-4zM300 65v4h1v-4zM300 164v2h1v-2zM300 435v4h1v-4zM301 61v4h1v-4zM301 338v2h1v-2zM301 439v3h1v-3zM302 57v4h1v-4zM302 161v2h1v-2zM302 340v2h1v-2zM302 442v4h1v-4zM303 54v3h1v-3zM303 159v2h1v-2zM303 446v4h1v-4zM304 50v4h1v-4zM304 157v2h1v-2zM304 343v2h1v-2zM304 450v3h1v-3zM305 46v4h1v-4zM305 345v2h1v-2zM305 453v4h1v-4zM306 43v3h1v-3zM306 154v2h1v-2zM306 347v2h1v-2zM306 457v4h1v-4zM307 39v4h1v-4zM307 152v2h1v-2zM307 461v3h1v-3zM308 36v3h1v-3zM308 150v2h1v-2zM308 350v2h1v-2zM309 352v2h1v-2zM310 147v2h1v-2zM311 145v2h1v-2zM311 355v2h1v-2zM312 357v2h1v-2zM313 142v2h1v-2zM313 359v2h1v-2zM314 140v2h1v-2zM315 138v2h1v-2zM316 364v2h1v-2zM317 135v2h1v-2zM318 133v2h1v-2zM319 131v2h1v-2zM319 369v2h1v-2zM320 371v2h1v-2zM321 128v2h1v-2zM322 126v2h1v-2zM322 374v2h1v-2zM323 124v2h1v-2zM323 376v2h1v-2zM324 378v2h1v-2zM325 121v2h1v-2zM326 119v2h1v-2zM326 381v2h1v-2zM327 383v2h1v-2zM328 116v2h1v-2zM328 385v2h1v-2zM329 114v2h1v-2zM330 112v2h1v-2zM330 388v2h1v-2zM331 390v2h1v-2zM332 109v2h1v-2zM333 107v2h1v-2zM333 393v2h1v-2zM334 105v2h1v-2zM334 395v2h1v-2zM335 397v2h1v-2zM336 102v2h1v-2zM337 100v2h1v-2zM337 400v2h1v-2zM338 98v2h1v-2zM338 402v2h1v-2zM339 404v2h1v-2zM340 95v2h1v-2zM341 93v2h1v-2zM341 407v2h1v-2zM342 409v2h1v-2zM343 90v2h1v-2zM344 88v2h1v-2zM344 412v2h1v-2zM345 86v2h1v-2zM345 414v2h1v-2zM346 416v2h1v-2zM347 83v2h1v-2zM348 81v2h1v-2zM348 419v2h1v-2zM349 79v2h1v-2zM349 421v2h1v-2zM351 76v2h1v-2zM351 424v2h1v-2zM352 74v2h1v-2zM352 426v2h1v-2zM353 72v2h1v-2zM353 428v2h1v-2zM355 69v2h1v-2zM355 431v2h1v-2zM356 67v2h1v-2zM356 433v2h1v-2zM357 435v2h1v-2zM358 64v2h1v-2zM359 62v2h1v-2zM359 438v2h1v-2zM360 60v2h1v-2zM360 440v2h1v-2zM361 139v2h1v-2zM362 57v2h1v-2zM362 443v2h1v-2zM363 55v2h1v-2zM363 445v2h1v-2zM364 53v2h1v-2zM364 447v2h1v-2zM366 50v2h1v-2zM366 450v2h1v-2zM367 48v2h1v-2zM367 452v2h1v-2zM368 46v2h1v-2zM368 454v2h1v-2zM370 43v2h1v-2zM370 457v2h1v-2zM371 41v2h1v-2zM371 459v2h1v-2zM373 38v2h1v-2zM373 462v2h1v-2zM374 36v2h1v-2z"><title>angle spokes</title></path>
<path fill="#ff0000" d="M245 250h1v1h-1zM260 251h2v1h-2zM237 252h1v1h-1zM264 252h2v1h-2zM232 253h4v1h-4zM268 253h2v1h-2zM229 254h3v1h-3zM271 254h2v1h-2zM227 255h3v1h-3zM273 255h2v1h-2zM225 256h3v1h-3zM275 256h2v1h-2zM223 257h3v1h-3zM277 257h2v1h-2zM222 258h3v1h-3zM279 258h2v1h-2zM220 259h3v1h-3zM280 259h3v1h-3zM218 260h3v1h-3zM282 260h2v1h-2zM216 261h4v1h-4zM284 261h2v1h-2zM214 262h4v1h-4zM286 262h1v1h-1zM212 263h4v1h-4zM287 263h2v1h-2zM211 264h3v1h-3zM288 264h3v1h-3zM210 265h2v1h-2zM289 265h3v1h-3zM209 266h2v1h-2zM291 266h2v1h-2zM208 267h2v1h-2zM292 267h3v1h-3zM206 268h3v1h-3zM293 268h3v1h-3zM205 269h3v1h-3zM295 269h2v1h-2zM204 270h2v1h-2zM296 270h2v1h-2zM203 271h2v1h-2zM297 271h2v1h-2zM202 272h2v1h-2zM298 272h3v1h-3zM201 273h2v1h-2zM299 273h3v1h-3zM200 274h2v1h-2zM200 275h1v1h-1zM197 278h1v1h-1zM196 279h2v1h-2zM305 279h1v1h-1zM196 280h1v1h-1zM305 280h2v1h-2zM306 281h2v1h-2zM307 282h1v1h-1zM193 283h1v1h-1zM193 284h1v1h-1zM310 285h1v1h-1zM310 286h1v1h-1zM310 381h1v1h-1zM309 382h2v1h-2zM193 383h1v1h-1zM308 383h2v1h-2zM193 384h2v1h-2zM307 384h2v1h-2zM194 385h2v1h-2zM307 385h1v1h-1zM195 386h1v1h-1zM304 388h1v1h-1zM197 389h3v1h-3zM303 389h2v1h-2zM198 390h3v1h-3zM302 390h2v1h-2zM200 391h2v1h-2zM301 391h2v1h-2zM201 392h2v1h-2zM300 392h2v1h-2zM202 393h2v1h-2zM298 393h3v1h-3zM203 394h3v1h-3zM297 394h3v1h-3zM204 395h3v1h-3zM296 395h2v1h-2zM206 396h2v1h-2zM295 396h2v1h-2zM207 397h2v1h-2zM294 397h2v1h-2zM208 398h2v1h-2zM293 398h2v1h-2zM209 399h2v1h-2zM292 399h2v1h-2zM210 400h3v1h-3zM291 400h1v1h-1zM211 401h4v1h-4zM290 401h1v1h-1zM213 402h4v1h-4zM288 402h2v1h-2zM215 403h4v1h-4zM287 403h1v1h-1zM217 404h4v1h-4zM285 404h1v1h-1zM219 405h4v1h-4zM221 406h3v1h-3zM282 406h1v1h-1zM223 407h3v1h-3zM225 408h3v1h-3zM274 408h1v1h-1zM227 409h3v1h-3zM272 409h1v1h-1zM230 410h2v1h-2zM266 410h3v1h-3zM232 411h2v1h-2zM241 411h2v1h-2zM260 411h6v1h-6zM249 412h11v1h-11zM177 321v24h1v-24zM178 316v38h1v-38zM179 312v9h1v-9zM179 345v12h1v-12zM180 308v8h1v-8zM180 354v5h1v-5zM181 306v6h1v-6zM181 357v5h1v-5zM182 303v5h1v-5zM182 359v6h1v-6zM183 300v6h1v-6zM183 362v6h1v-6zM184 298v5h1v-5zM184 365v5h1v-5zM185 296v4h1v-4zM185 368v4h1v-4zM186 294v4h1v-4zM186 370v4h1v-4zM187 292v4h1v-4zM187 372v4h1v-4zM188 290v4h1v-4zM188 374v4h1v-4zM189 289v3h1v-3zM189 376v4h1v-4zM190 287v3h1v-3zM190 378v3h1v-3zM191 285v4h1v-4zM191 380v3h1v-3zM192 284v3h1v-3zM192 381v3h1v-3zM194 281v3h1v-3zM195 280v3h1v-3zM196 386v3h1v-3zM197 387v2h1v-2zM198 276v3h1v-3zM199 275v3h1v-3zM301 274v2h1v-2zM302 274v3h1v-3zM303 276v3h1v-3zM304 277v3h1v-3zM305 386v3h1v-3zM306 385v3h1v-3zM308 282v3h1v-3zM309 283v3h1v-3zM311 286v3h1v-3zM311 379v3h1v-3zM312 287v4h1v-4zM312 377v4h1v-4zM313 289v4h1v-4zM313 375v4h1v-4zM314 291v4h1v-4zM314 373v4h1v-4zM315 293v4h1v-4zM315 371v4h1v-4zM316 295v5h1v-5zM316 369v4h1v-4zM317 297v5h1v-5zM317 367v4h1v-4zM318 300v5h1v-5zM318 363v6h1v-6zM319 302v6h1v-6zM319 360v7h1v-7zM320 305v5h1v-5zM320 356v7h1v-7zM321 308v7h1v-7zM321 351v9h1v-9zM322 310v12h1v-12zM322 344v12h1v-12zM323 315v36h1v-36zM324 322v22h1v-22z"><title>curve C90-C270</title></path>
<path fill="#0000ff" d="M246 250h10v1h-10zM241 251h19v1h-19zM238 252h8v1h-8zM256 252h8v1h-8zM236 253h5v1h-5zM260 253h8v1h-8zM232 254h6v1h-6zM264 254h7v1h-7zM230 255h6v1h-6zM268 255h5v1h-5zM228 256h4v1h-4zM271 256h4v1h-4zM226 257h4v1h-4zM273 257h4v1h-4zM225 258h3v1h-3zM275 258h4v1h-4zM223 259h3v1h-3zM277 259h3v1h-3zM221 260h4v1h-4zM279 260h3v1h-3zM220 261h3v1h-3zM280 261h4v1h-4zM219 262h2v1h-2zM282 262h4v1h-4zM217 263h3v1h-3zM284 263h3v1h-3zM216 264h3v1h-3zM286 264h2v1h-2zM215 265h2v1h-2zM287 265h2v1h-2zM213 266h3v1h-3zM288 266h2v1h-2zM212 267h3v1h-3zM289 267h3v1h-3zM211 268h2v1h-2zM290 268h3v1h-3zM210 269h2v1h-2zM292 269h2v1h-2zM209 270h2v1h-2zM293 270h1v1h-1zM208 271h2v1h-2zM208 272h1v1h-1zM296 273h1v1h-1zM296 274h2v1h-2zM205 275h1v1h-1zM297 275h2v1h-2zM204 276h2v1h-2zM298 276h1v1h-1zM203 277h2v1h-2zM203 278h1v1h-1zM301 279h1v1h-1zM301 280h2v1h-2zM302 281h2v1h-2zM303 282h1v1h-1zM305 381h1v1h-1zM305 382h1v1h-1zM201 384h1v1h-1zM201 385h2v1h-2zM302 385h1v1h-1zM202 386h1v1h-1zM302 386h1v1h-1zM205 389h1v1h-1zM299 389h1v1h-1zM205 390h2v1h-2zM298 390h2v1h-2zM206 391h2v1h-2zM297 391h2v1h-2zM207 392h1v1h-1zM296 392h2v1h-2zM296 393h1v1h-1zM209 395h3v1h-3zM210 396h3v1h-3zM293 396h1v1h-1zM212 397h3v1h-3zM292 397h2v1h-2zM213 398h3v1h-3zM291 398h2v1h-2zM215 399h2v1h-2zM290 399h2v1h-2zM216 400h3v1h-3zM288 400h3v1h-3zM217 401h3v1h-3zM287 401h3v1h-3zM219 402h2v1h-2zM285 402h3v1h-3zM220 403h3v1h-3zM284 403h3v1h-3zM221 404h3v1h-3zM282 404h3v1h-3zM223 405h3v1h-3zM281 405h3v1h-3zM224 406h4v1h-4zM279 406h3v1h-3zM226 407h4v1h-4zM277 407h4v1h-4zM228 408h4v1h-4zM275 408h4v1h-4zM230 409h4v1h-4zM273 409h4v1h-4zM232 410h6v1h-6zM269 410h6v1h-6zM234 411h7v1h-7zM266 411h7v1h-7zM238 412h11v1h-11zM260 412h9v1h-9zM241 413h25v1h-25zM249 414h11v1h-11zM184 325v10h1v-10zM185 318v27h1v-27zM186 313v12h1v-12zM186 335v15h1v-15zM187 310v8h1v-8zM187 345v10h1v-10zM188 306v7h1v-7zM188 350v9h1v-9zM189 303v7h1v-7zM189 355v7h1v-7zM190 300v6h1v-6zM190 359v5h1v-5zM191 298v5h1v-5zM191 362v5h1v-5zM192 295v5h1v-5zM192 364v6h1v-6zM193 293v5h1v-5zM193 367v5h1v-5zM194 291v4h1v-4zM194 370v4h1v-4zM195 289v4h1v-4zM195 372v4h1v-4zM196 287v4h1v-4zM196 374v4h1v-4zM197 286v3h1v-3zM197 376v4h1v-4zM198 284v3h1v-3zM198 378v4h1v-4zM199 282v4h1v-4zM199 380v4h1v-4zM200 281v3h1v-3zM200 382v3h1v-3zM201 279v3h1v-3zM202 278v3h1v-3zM203 386v3h1v-3zM204 387v3h1v-3zM206 273v3h1v-3zM207 272v3h1v-3zM208 392v3h1v-3zM209 393v2h1v-2zM294 270v3h1v-3zM294 394v3h1v-3zM295 271v3h1v-3zM295 393v3h1v-3zM299 276v3h1v-3zM300 277v3h1v-3zM300 387v3h1v-3zM301 386v3h1v-3zM303 383v3h1v-3zM304 282v3h1v-3zM304 382v3h1v-3zM305 283v4h1v-4zM306 285v4h1v-4zM306 379v3h1v-3zM307 287v4h1v-4zM307 378v3h1v-3zM308 289v4h1v-4zM308 376v3h1v-3zM309 291v4h1v-4zM309 374v4h1v-4zM310 293v4h1v-4zM310 372v4h1v-4zM311 295v5h1v-5zM311 369v5h1v-5zM312 297v6h1v-6zM312 367v5h1v-5zM313 300v5h1v-5zM313 365v4h1v-4zM314 303v6h1v-6zM314 361v6h1v-6zM315 305v8h1v-8zM315 356v9h1v-9zM316 309v8h1v-8zM316 352v9h1v-9zM317 313v14h1v-14zM317 342v14h1v-14zM318 317v35h1v-35zM319 327v15h1v-15z"><title>curve C0-C180</title></path>
<path fill="#000000" d="M0 0h500v1h-500zM37 21h3v1h-3zM42 21h5v1h-5zM127 21h5v1h-5zM135 21h1v1h-1zM195 21h3v1h-3zM199 21h5v1h-5zM249 21h3v1h-3zM256 21h1v1h-1zM308 21h3v1h-3zM312 21h5v1h-5zM372 21h5v1h-5zM380 21h1v1h-1zM464 21h3v1h-3zM469 21h5v1h-5zM31 22h1v1h-1zM36 22h1v1h-1zM122 22h1v1h-1zM134 22h1v1h-1zM136 22h1v1h-1zM188 22h1v1h-1zM194 22h1v1h-1zM243 22h1v1h-1zM255 22h1v1h-1zM257 22h1v1h-1zM301 22h1v1h-1zM307 22h1v1h-1zM367 22h1v1h-1zM379 22h1v1h-1zM381 22h1v1h-1zM458 22h1v1h-1zM463 22h1v1h-1zM30 23h1v1h-1zM42 23h4v1h-4zM121 23h1v1h-1zM127 23h4v1h-4zM187 23h1v1h-1zM199 23h4v1h-4zM242 23h1v1h-1zM300 23h1v1h-1zM312 23h4v1h-4zM366 23h1v1h-1zM372 23h4v1h-4zM457 23h1v1h-1zM469 23h4v1h-4zM38 24h2v1h-2zM194 24h3v1h-3zM249 24h3v1h-3zM307 24h3v1h-3zM465 24h2v1h-2zM24 25h5v1h-5zM115 25h5v1h-5zM181 25h5v1h-5zM36 27h1v1h-1zM42 27h1v1h-1zM127 27h1v1h-1zM134 27h1v1h-1zM136 27h1v1h-1zM199 27h1v1h-1zM255 27h1v1h-1zM257 27h1v1h-1zM312 27h1v1h-1zM372 27h1v1h-1zM379 27h1v1h-1zM381 27h1v1h-1zM463 27h1v1h-1zM469 27h1v1h-1zM30 28h2v1h-2zM33 28h2v1h-2zM37 28h3v1h-3zM43 28h3v1h-3zM121 28h2v1h-2zM124 28h2v1h-2zM128 28h3v1h-3zM135 28h1v1h-1zM187 28h2v1h-2zM190 28h2v1h-2zM194 28h3v1h-3zM200 28h3v1h-3zM242 28h2v1h-2zM245 28h2v1h-2zM249 28h3v1h-3zM256 28h1v1h-1zM300 28h2v1h-2zM303 28h2v1h-2zM307 28h3v1h-3zM313 28h3v1h-3zM366 28h2v1h-2zM369 28h2v1h-2zM373 28h3v1h-3zM380 28h1v1h-1zM457 28h2v1h-2zM460 28h2v1h-2zM464 28h3v1h-3zM470 28h3v1h-3zM35 35h431v1h-431zM19 124h3v1h-3zM26 124h1v1h-1zM477 124h3v1h-3zM484 124h1v1h-1zM13 125h1v1h-1zM18 125h1v1h-1zM25 125h1v1h-1zM27 125h1v1h-1zM471 125h1v1h-1zM476 125h1v1h-1zM483 125h1v1h-1zM485 125h1v1h-1zM12 126h1v1h-1zM470 126h1v1h-1zM21 127h1v1h-1zM479 127h1v1h-1zM6 128h5v1h-5zM20 128h1v1h-1zM478 128h1v1h-1zM19 129h1v1h-1zM477 129h1v1h-1zM25 130h1v1h-1zM27 130h1v1h-1zM483 130h1v1h-1zM485 130h1v1h-1zM12 131h2v1h-2zM15 131h2v1h-2zM18 131h5v1h-5zM26 131h1v1h-1zM470 131h2v1h-2zM473 131h2v1h-2zM476 131h5v1h-5zM484 131h1v1h-1zM20 190h1v1h-1zM24 190h5v1h-5zM478 190h1v1h-1zM482 190h5v1h-5zM13 191h1v1h-1zM19 191h1v1h-1zM21 191h1v1h-1zM471 191h1v1h-1zM477 191h1v1h-1zM479 191h1v1h-1zM12 192h1v1h-1zM24 192h4v1h-4zM470 192h1v1h-1zM482 192h4v1h-4zM6 194h5v1h-5zM19 196h1v1h-1zM21 196h1v1h-1zM24 196h1v1h-1zM477 196h1v1h-1zM479 196h1v1h-1zM482 196h1v1h-1zM12 197h2v1h-2zM15 197h2v1h-2zM20 197h1v1h-1zM25 197h3v1h-3zM470 197h2v1h-2zM473 197h2v1h-2zM478 197h1v1h-1zM483 197h3v1h-3zM19 248h3v1h-3zM26 248h1v1h-1zM471 248h3v1h-3zM478 248h1v1h-1zM25 249h1v1h-1zM27 249h1v1h-1zM477 249h1v1h-1zM479 249h1v1h-1zM12 252h5v1h-5zM19 252h3v1h-3zM471 252h3v1h-3zM21 254h1v1h-1zM25 254h1v1h-1zM27 254h1v1h-1zM473 254h1v1h-1zM477 254h1v1h-1zM479 254h1v1h-1zM18 255h3v1h-3zM26 255h1v1h-1zM470 255h3v1h-3zM478 255h1v1h-1zM18 306h5v1h-5zM24 306h5v1h-5zM470 306h5v1h-5zM476 306h5v1h-5zM24 308h4v1h-4zM476 308h4v1h-4zM12 310h5v1h-5zM24 312h1v1h-1zM476 312h1v1h-1zM25 313h3v1h-3zM477 313h3v1h-3zM20 372h3v1h-3zM26 372h1v1h-1zM472 372h3v1h-3zM478 372h1v1h-1zM19 373h1v1h-1zM25 373h1v1h-1zM27 373h1v1h-1zM471 373h1v1h-1zM477 373h1v1h-1zM479 373h1v1h-1zM19 375h3v1h-3zM471 375h3v1h-3zM12 376h5v1h-5zM25 378h1v1h-1zM27 378h1v1h-1zM477 378h1v1h-1zM479 378h1v1h-1zM19 379h3v1h-3zM26 379h1v1h-1zM471 379h3v1h-3zM478 379h1v1h-1zM35 465h431v1h-431zM39 474h5v1h-5zM125 474h3v1h-3zM132 474h1v1h-1zM196 474h5v1h-5zM309 474h5v1h-5zM370 474h3v1h-3zM377 474h1v1h-1zM466 474h5v1h-5zM35 475h1v1h-1zM124 475h1v1h-1zM131 475h1v1h-1zM133 475h1v1h-1zM191 475h1v1h-1zM304 475h1v1h-1zM369 475h1v1h-1zM376 475h1v1h-1zM378 475h1v1h-1zM462 475h1v1h-1zM34 476h1v1h-1zM39 476h4v1h-4zM190 476h1v1h-1zM196 476h4v1h-4zM303 476h1v1h-1zM309 476h4v1h-4zM461 476h1v1h-1zM466 476h4v1h-4zM126 477h2v1h-2zM371 477h2v1h-2zM27 478h5v1h-5zM118 478h5v1h-5zM184 478h5v1h-5zM33 479h3v1h-3zM37 479h1v1h-1zM460 479h3v1h-3zM464 479h1v1h-1zM39 480h1v1h-1zM124 480h1v1h-1zM131 480h1v1h-1zM133 480h1v1h-1zM196 480h1v1h-1zM309 480h1v1h-1zM369 480h1v1h-1zM376 480h1v1h-1zM378 480h1v1h-1zM466 480h1v1h-1zM40 481h3v1h-3zM125 481h3v1h-3zM132 481h1v1h-1zM190 481h2v1h-2zM193 481h2v1h-2zM197 481h3v1h-3zM303 481h2v1h-2zM306 481h2v1h-2zM310 481h3v1h-3zM370 481h3v1h-3zM377 481h1v1h-1zM467 481h3v1h-3zM0 499h500v1h-500zM0 1v498h1v-498zM14 124v8h1v-8zM14 190v8h1v-8zM18 130v1h1v-1zM18 192v4h1v-4zM18 249v3h1v-3zM18 374v5h1v-5zM19 312v2h1v-2zM20 310v2h1v-2zM21 308v2h1v-2zM22 125v2h1v-2zM22 192v4h1v-4zM22 249v5h1v-5zM22 307v1h1v-1zM22 376v3h1v-3zM24 126v4h1v-4zM24 191v1h1v-1zM24 193v1h1v-1zM24 250v4h1v-4zM24 307v1h1v-1zM24 309v1h1v-1zM24 374v4h1v-4zM28 126v4h1v-4zM28 193v4h1v-4zM28 250v4h1v-4zM28 309v4h1v-4zM28 374v4h1v-4zM32 21v8h1v-8zM33 477v2h1v-2zM35 36v429h1v-429zM36 474v8h1v-8zM39 475v1h1v-1zM39 477v1h1v-1zM40 22v2h1v-2zM40 25v3h1v-3zM42 22v1h1v-1zM42 24v1h1v-1zM43 477v4h1v-4zM46 24v4h1v-4zM123 21v8h1v-8zM127 22v1h1v-1zM127 24v1h1v-1zM128 475v2h1v-2zM128 478v3h1v-3zM130 476v4h1v-4zM131 24v4h1v-4zM133 23v4h1v-4zM134 476v4h1v-4zM137 23v4h1v-4zM189 21v8h1v-8zM192 474v8h1v-8zM193 23v5h1v-5zM196 475v1h1v-1zM196 477v1h1v-1zM197 25v3h1v-3zM199 22v1h1v-1zM199 24v1h1v-1zM200 477v4h1v-4zM203 24v4h1v-4zM244 21v8h1v-8zM248 22v2h1v-2zM248 25v3h1v-3zM252 22v2h1v-2zM252 25v3h1v-3zM254 23v4h1v-4zM258 23v4h1v-4zM302 21v8h1v-8zM305 474v8h1v-8zM306 23v5h1v-5zM309 475v1h1v-1zM309 477v1h1v-1zM310 25v3h1v-3zM312 22v1h1v-1zM312 24v1h1v-1zM313 477v4h1v-4zM316 24v4h1v-4zM368 21v8h1v-8zM372 22v1h1v-1zM372 24v1h1v-1zM373 475v2h1v-2zM373 478v3h1v-3zM375 476v4h1v-4zM376 24v4h1v-4zM378 23v4h1v-4zM379 476v4h1v-4zM382 23v4h1v-4zM459 21v8h1v-8zM460 477v2h1v-2zM463 474v8h1v-8zM465 36v429h1v-429zM466 475v1h1v-1zM466 477v1h1v-1zM467 22v2h1v-2zM467 25v3h1v-3zM469 22v1h1v-1zM469 24v1h1v-1zM470 249v3h1v-3zM470 374v5h1v-5zM470 477v4h1v-4zM471 312v2h1v-2zM472 124v8h1v-8zM472 190v8h1v-8zM472 310v2h1v-2zM473 24v4h1v-4zM473 308v2h1v-2zM474 249v5h1v-5zM474 307v1h1v-1zM474 376v3h1v-3zM476 130v1h1v-1zM476 192v4h1v-4zM476 250v4h1v-4zM476 307v1h1v-1zM476 309v1h1v-1zM476 374v4h1v-4zM480 125v2h1v-2zM480 192v4h1v-4zM480 250v4h1v-4zM480 309v4h1v-4zM480 374v4h1v-4zM482 126v4h1v-4zM482 191v1h1v-1zM482 193v1h1v-1zM486 126v4h1v-4zM486 193v4h1v-4zM499 1v498h1v-498z"><title>frame and labels</title></path>
</svg>
</body>
</html>
